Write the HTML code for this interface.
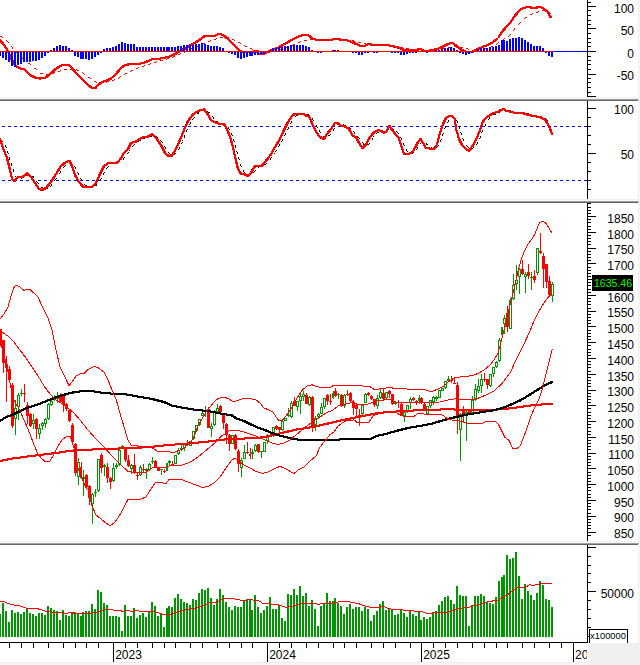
<!DOCTYPE html>
<html><head><meta charset="utf-8"><title>chart</title>
<style>
html,body{margin:0;padding:0;background:#fff;}
#c{position:relative;width:640px;height:665px;overflow:hidden;font-family:"Liberation Sans",sans-serif;}
.l{position:absolute;line-height:16px;height:16px;white-space:nowrap;color:#000;}
</style></head><body>
<div id="c">
<svg width="640" height="665" viewBox="0 0 640 665" shape-rendering="crispEdges" style="display:block">
<rect x="0" y="0" width="640" height="665" fill="#ffffff"/>
<rect x="638" y="0" width="1" height="643" fill="#efefef"/>
<rect x="639" y="0" width="1" height="643" fill="#f7f7f7"/>
<rect x="0" y="662" width="588" height="1" fill="#ececec"/>
<rect x="0" y="663" width="588" height="2" fill="#f7f7f7"/>
<rect x="0" y="97" width="638" height="1" fill="#efefef"/>
<rect x="0" y="98" width="640" height="1" fill="#fbfbfb"/>
<rect x="0" y="99" width="639" height="1" fill="#a0a0a0"/>
<rect x="0" y="100" width="638" height="1" fill="#646464"/>
<rect x="0" y="199" width="638" height="1" fill="#efefef"/>
<rect x="0" y="200" width="640" height="1" fill="#fbfbfb"/>
<rect x="0" y="201" width="639" height="1" fill="#a0a0a0"/>
<rect x="0" y="202" width="638" height="1" fill="#646464"/>
<rect x="0" y="541" width="638" height="1" fill="#efefef"/>
<rect x="0" y="542" width="640" height="1" fill="#fbfbfb"/>
<rect x="0" y="543" width="639" height="1" fill="#a0a0a0"/>
<rect x="0" y="544" width="638" height="1" fill="#646464"/>
<rect x="542" y="10" width="3" height="1" fill="#ff0000"/><rect x="538" y="11" width="1" height="1" fill="#ff0000"/><rect x="548" y="11" width="1" height="1" fill="#ff0000"/><rect x="536" y="12" width="2" height="1" fill="#ff0000"/><rect x="549" y="12" width="1" height="1" fill="#ff0000"/><rect x="532" y="13" width="1" height="1" fill="#ff0000"/><rect x="550" y="13" width="1" height="1" fill="#ff0000"/><rect x="530" y="14" width="2" height="1" fill="#ff0000"/><rect x="525" y="17" width="2" height="1" fill="#ff0000"/><rect x="524" y="18" width="1" height="1" fill="#ff0000"/><rect x="520" y="22" width="1" height="1" fill="#ff0000"/><rect x="519" y="23" width="1" height="1" fill="#ff0000"/><rect x="518" y="24" width="1" height="1" fill="#ff0000"/><rect x="514" y="28" width="1" height="1" fill="#ff0000"/><rect x="514" y="29" width="1" height="1" fill="#ff0000"/><rect x="513" y="30" width="1" height="1" fill="#ff0000"/><rect x="510" y="34" width="1" height="1" fill="#ff0000"/><rect x="509" y="35" width="1" height="1" fill="#ff0000"/><rect x="0" y="36" width="2" height="1" fill="#ff0000"/><rect x="508" y="36" width="1" height="1" fill="#ff0000"/><rect x="2" y="37" width="1" height="1" fill="#ff0000"/><rect x="220" y="37" width="3" height="1" fill="#ff0000"/><rect x="226" y="37" width="3" height="1" fill="#ff0000"/><rect x="216" y="38" width="1" height="1" fill="#ff0000"/><rect x="504" y="38" width="1" height="1" fill="#ff0000"/><rect x="214" y="39" width="2" height="1" fill="#ff0000"/><rect x="232" y="39" width="2" height="1" fill="#ff0000"/><rect x="310" y="39" width="3" height="1" fill="#ff0000"/><rect x="316" y="39" width="3" height="1" fill="#ff0000"/><rect x="322" y="39" width="3" height="1" fill="#ff0000"/><rect x="328" y="39" width="3" height="1" fill="#ff0000"/><rect x="334" y="39" width="3" height="1" fill="#ff0000"/><rect x="340" y="39" width="3" height="1" fill="#ff0000"/><rect x="346" y="39" width="2" height="1" fill="#ff0000"/><rect x="503" y="39" width="1" height="1" fill="#ff0000"/><rect x="6" y="40" width="1" height="1" fill="#ff0000"/><rect x="210" y="40" width="1" height="1" fill="#ff0000"/><rect x="234" y="40" width="1" height="1" fill="#ff0000"/><rect x="304" y="40" width="3" height="1" fill="#ff0000"/><rect x="348" y="40" width="1" height="1" fill="#ff0000"/><rect x="352" y="40" width="2" height="1" fill="#ff0000"/><rect x="502" y="40" width="1" height="1" fill="#ff0000"/><rect x="7" y="41" width="1" height="1" fill="#ff0000"/><rect x="208" y="41" width="2" height="1" fill="#ff0000"/><rect x="300" y="41" width="1" height="1" fill="#ff0000"/><rect x="354" y="41" width="1" height="1" fill="#ff0000"/><rect x="8" y="42" width="1" height="1" fill="#ff0000"/><rect x="238" y="42" width="2" height="1" fill="#ff0000"/><rect x="298" y="42" width="2" height="1" fill="#ff0000"/><rect x="358" y="42" width="3" height="1" fill="#ff0000"/><rect x="498" y="42" width="1" height="1" fill="#ff0000"/><rect x="203" y="43" width="2" height="1" fill="#ff0000"/><rect x="240" y="43" width="1" height="1" fill="#ff0000"/><rect x="364" y="43" width="2" height="1" fill="#ff0000"/><rect x="497" y="43" width="1" height="1" fill="#ff0000"/><rect x="202" y="44" width="1" height="1" fill="#ff0000"/><rect x="293" y="44" width="2" height="1" fill="#ff0000"/><rect x="366" y="44" width="1" height="1" fill="#ff0000"/><rect x="370" y="44" width="3" height="1" fill="#ff0000"/><rect x="496" y="44" width="1" height="1" fill="#ff0000"/><rect x="198" y="45" width="1" height="1" fill="#ff0000"/><rect x="244" y="45" width="1" height="1" fill="#ff0000"/><rect x="292" y="45" width="1" height="1" fill="#ff0000"/><rect x="376" y="45" width="3" height="1" fill="#ff0000"/><rect x="382" y="45" width="3" height="1" fill="#ff0000"/><rect x="388" y="45" width="3" height="1" fill="#ff0000"/><rect x="394" y="45" width="1" height="1" fill="#ff0000"/><rect x="11" y="46" width="1" height="1" fill="#ff0000"/><rect x="196" y="46" width="2" height="1" fill="#ff0000"/><rect x="245" y="46" width="2" height="1" fill="#ff0000"/><rect x="287" y="46" width="2" height="1" fill="#ff0000"/><rect x="395" y="46" width="2" height="1" fill="#ff0000"/><rect x="454" y="46" width="3" height="1" fill="#ff0000"/><rect x="491" y="46" width="2" height="1" fill="#ff0000"/><rect x="12" y="47" width="1" height="1" fill="#ff0000"/><rect x="286" y="47" width="1" height="1" fill="#ff0000"/><rect x="400" y="47" width="3" height="1" fill="#ff0000"/><rect x="448" y="47" width="3" height="1" fill="#ff0000"/><rect x="460" y="47" width="3" height="1" fill="#ff0000"/><rect x="490" y="47" width="1" height="1" fill="#ff0000"/><rect x="12" y="48" width="1" height="1" fill="#ff0000"/><rect x="191" y="48" width="2" height="1" fill="#ff0000"/><rect x="250" y="48" width="2" height="1" fill="#ff0000"/><rect x="281" y="48" width="2" height="1" fill="#ff0000"/><rect x="406" y="48" width="3" height="1" fill="#ff0000"/><rect x="442" y="48" width="3" height="1" fill="#ff0000"/><rect x="466" y="48" width="2" height="1" fill="#ff0000"/><rect x="485" y="48" width="2" height="1" fill="#ff0000"/><rect x="190" y="49" width="1" height="1" fill="#ff0000"/><rect x="252" y="49" width="1" height="1" fill="#ff0000"/><rect x="280" y="49" width="1" height="1" fill="#ff0000"/><rect x="412" y="49" width="3" height="1" fill="#ff0000"/><rect x="418" y="49" width="3" height="1" fill="#ff0000"/><rect x="436" y="49" width="3" height="1" fill="#ff0000"/><rect x="468" y="49" width="1" height="1" fill="#ff0000"/><rect x="479" y="49" width="2" height="1" fill="#ff0000"/><rect x="484" y="49" width="1" height="1" fill="#ff0000"/><rect x="256" y="50" width="3" height="1" fill="#ff0000"/><rect x="275" y="50" width="2" height="1" fill="#ff0000"/><rect x="424" y="50" width="3" height="1" fill="#ff0000"/><rect x="430" y="50" width="3" height="1" fill="#ff0000"/><rect x="472" y="50" width="3" height="1" fill="#ff0000"/><rect x="478" y="50" width="1" height="1" fill="#ff0000"/><rect x="185" y="51" width="2" height="1" fill="#ff0000"/><rect x="270" y="51" width="1" height="1" fill="#ff0000"/><rect x="274" y="51" width="1" height="1" fill="#ff0000"/><rect x="16" y="52" width="1" height="1" fill="#ff0000"/><rect x="184" y="52" width="1" height="1" fill="#ff0000"/><rect x="262" y="52" width="3" height="1" fill="#ff0000"/><rect x="268" y="52" width="2" height="1" fill="#ff0000"/><rect x="17" y="53" width="1" height="1" fill="#ff0000"/><rect x="180" y="53" width="1" height="1" fill="#ff0000"/><rect x="18" y="54" width="1" height="1" fill="#ff0000"/><rect x="178" y="54" width="2" height="1" fill="#ff0000"/><rect x="173" y="56" width="2" height="1" fill="#ff0000"/><rect x="172" y="57" width="1" height="1" fill="#ff0000"/><rect x="22" y="58" width="2" height="1" fill="#ff0000"/><rect x="167" y="58" width="2" height="1" fill="#ff0000"/><rect x="24" y="59" width="1" height="1" fill="#ff0000"/><rect x="166" y="59" width="1" height="1" fill="#ff0000"/><rect x="160" y="60" width="3" height="1" fill="#ff0000"/><rect x="156" y="61" width="1" height="1" fill="#ff0000"/><rect x="154" y="62" width="2" height="1" fill="#ff0000"/><rect x="28" y="63" width="2" height="1" fill="#ff0000"/><rect x="150" y="63" width="1" height="1" fill="#ff0000"/><rect x="30" y="64" width="1" height="1" fill="#ff0000"/><rect x="148" y="64" width="2" height="1" fill="#ff0000"/><rect x="144" y="65" width="1" height="1" fill="#ff0000"/><rect x="142" y="66" width="2" height="1" fill="#ff0000"/><rect x="138" y="67" width="1" height="1" fill="#ff0000"/><rect x="34" y="68" width="2" height="1" fill="#ff0000"/><rect x="136" y="68" width="2" height="1" fill="#ff0000"/><rect x="36" y="69" width="1" height="1" fill="#ff0000"/><rect x="64" y="69" width="3" height="1" fill="#ff0000"/><rect x="70" y="69" width="3" height="1" fill="#ff0000"/><rect x="76" y="69" width="1" height="1" fill="#ff0000"/><rect x="60" y="70" width="1" height="1" fill="#ff0000"/><rect x="77" y="70" width="2" height="1" fill="#ff0000"/><rect x="131" y="70" width="2" height="1" fill="#ff0000"/><rect x="58" y="71" width="2" height="1" fill="#ff0000"/><rect x="130" y="71" width="1" height="1" fill="#ff0000"/><rect x="54" y="72" width="1" height="1" fill="#ff0000"/><rect x="82" y="72" width="1" height="1" fill="#ff0000"/><rect x="40" y="73" width="3" height="1" fill="#ff0000"/><rect x="52" y="73" width="2" height="1" fill="#ff0000"/><rect x="83" y="73" width="1" height="1" fill="#ff0000"/><rect x="125" y="73" width="2" height="1" fill="#ff0000"/><rect x="46" y="74" width="3" height="1" fill="#ff0000"/><rect x="84" y="74" width="1" height="1" fill="#ff0000"/><rect x="124" y="74" width="1" height="1" fill="#ff0000"/><rect x="120" y="76" width="1" height="1" fill="#ff0000"/><rect x="88" y="77" width="2" height="1" fill="#ff0000"/><rect x="119" y="77" width="1" height="1" fill="#ff0000"/><rect x="90" y="78" width="1" height="1" fill="#ff0000"/><rect x="118" y="78" width="1" height="1" fill="#ff0000"/><rect x="114" y="79" width="1" height="1" fill="#ff0000"/><rect x="112" y="80" width="2" height="1" fill="#ff0000"/><rect x="94" y="81" width="2" height="1" fill="#ff0000"/><rect x="107" y="81" width="2" height="1" fill="#ff0000"/><rect x="96" y="82" width="1" height="1" fill="#ff0000"/><rect x="101" y="82" width="2" height="1" fill="#ff0000"/><rect x="106" y="82" width="1" height="1" fill="#ff0000"/><rect x="100" y="83" width="1" height="1" fill="#ff0000"/>
<polyline points="-0.5,39.5 3.5,44.5 7.5,50.5 11.5,59.5 15.5,65.9 19.5,67.9 23.5,68.5 29.5,74.5 35.5,77.5 39.5,78.1 44.5,77.5 49.5,73.5 54.5,69.1 59.5,65.5 64.5,64.1 68.5,64.3 71.5,67.5 75.5,72.5 81.5,78.5 87.5,84.5 91.5,87.5 94.5,87.9 97.5,84.5 101.5,81.5 107.5,79.5 111.5,77.5 115.5,73.5 119.5,68.5 123.5,65.1 127.5,64.0 133.5,63.5 139.5,63.1 145.5,61.5 151.5,58.7 157.5,58.3 163.5,57.5 169.5,55.9 175.5,53.1 179.5,50.5 185.5,47.5 191.5,43.9 197.5,40.5 203.5,35.9 207.5,35.5 213.5,35.5 217.5,33.9 220.5,33.9 224.5,35.9 229.5,40.5 235.5,46.5 239.5,50.5 243.5,51.9 249.5,51.9 255.5,50.5 258.5,53.5 262.5,53.9 266.5,51.9 271.5,49.5 277.5,47.1 283.5,43.9 289.5,40.5 295.5,37.1 300.5,35.1 305.5,34.5 308.5,35.1 311.5,37.9 315.5,39.1 323.5,39.1 331.5,39.1 334.5,38.1 337.5,38.5 341.5,39.5 347.5,40.1 351.5,41.5 355.5,43.5 359.5,45.1 364.5,45.1 368.5,43.5 372.5,44.5 379.5,44.5 383.5,44.5 389.5,45.1 395.5,46.5 399.5,47.5 403.5,49.5 409.5,49.1 415.5,49.5 419.5,48.5 423.5,50.1 428.5,50.1 433.5,49.1 439.5,47.5 443.5,45.5 448.5,43.1 452.5,42.5 455.5,45.1 459.5,48.5 463.5,50.5 467.5,51.9 471.5,51.9 475.5,49.5 479.5,47.5 485.5,45.1 491.5,42.5 497.5,37.5 501.5,31.5 505.5,26.5 509.5,22.5 513.5,16.5 517.5,11.5 520.5,8.5 524.5,7.1 529.5,6.5 532.5,7.9 535.5,7.5 538.5,6.1 541.5,7.1 544.5,9.1 547.5,11.5 549.5,15.9 551.5,17.5" fill="none" stroke="#ff0000" stroke-width="1"/>
<polyline points="0.5,39.5 4.5,44.5 8.5,50.5 12.5,59.5 16.5,65.9 20.5,67.9 24.5,68.5 30.5,74.5 36.5,77.5 40.5,78.1 45.5,77.5 50.5,73.5 55.5,69.1 60.5,65.5 65.5,64.1 69.5,64.3 72.5,67.5 76.5,72.5 82.5,78.5 88.5,84.5 92.5,87.5 95.5,87.9 98.5,84.5 102.5,81.5 108.5,79.5 112.5,77.5 116.5,73.5 120.5,68.5 124.5,65.1 128.5,64.0 134.5,63.5 140.5,63.1 146.5,61.5 152.5,58.7 158.5,58.3 164.5,57.5 170.5,55.9 176.5,53.1 180.5,50.5 186.5,47.5 192.5,43.9 198.5,40.5 204.5,35.9 208.5,35.5 214.5,35.5 218.5,33.9 221.5,33.9 225.5,35.9 230.5,40.5 236.5,46.5 240.5,50.5 244.5,51.9 250.5,51.9 256.5,50.5 259.5,53.5 263.5,53.9 267.5,51.9 272.5,49.5 278.5,47.1 284.5,43.9 290.5,40.5 296.5,37.1 301.5,35.1 306.5,34.5 309.5,35.1 312.5,37.9 316.5,39.1 324.5,39.1 332.5,39.1 335.5,38.1 338.5,38.5 342.5,39.5 348.5,40.1 352.5,41.5 356.5,43.5 360.5,45.1 365.5,45.1 369.5,43.5 373.5,44.5 380.5,44.5 384.5,44.5 390.5,45.1 396.5,46.5 400.5,47.5 404.5,49.5 410.5,49.1 416.5,49.5 420.5,48.5 424.5,50.1 429.5,50.1 434.5,49.1 440.5,47.5 444.5,45.5 449.5,43.1 453.5,42.5 456.5,45.1 460.5,48.5 464.5,50.5 468.5,51.9 472.5,51.9 476.5,49.5 480.5,47.5 486.5,45.1 492.5,42.5 498.5,37.5 502.5,31.5 506.5,26.5 510.5,22.5 514.5,16.5 518.5,11.5 521.5,8.5 525.5,7.1 530.5,6.5 533.5,7.9 536.5,7.5 539.5,6.1 542.5,7.1 545.5,9.1 548.5,11.5 550.5,15.9 552.5,17.5" fill="none" stroke="#ff0000" stroke-width="1"/>
<polyline points="-0.5,40.5 3.5,45.5 7.5,51.5 11.5,60.5 15.5,66.9 19.5,68.9 23.5,69.5 29.5,75.5 35.5,78.5 39.5,79.1 44.5,78.5 49.5,74.5 54.5,70.1 59.5,66.5 64.5,65.1 68.5,65.3 71.5,68.5 75.5,73.5 81.5,79.5 87.5,85.5 91.5,88.5 94.5,88.9 97.5,85.5 101.5,82.5 107.5,80.5 111.5,78.5 115.5,74.5 119.5,69.5 123.5,66.1 127.5,65.0 133.5,64.5 139.5,64.1 145.5,62.5 151.5,59.7 157.5,59.3 163.5,58.5 169.5,56.9 175.5,54.1 179.5,51.5 185.5,48.5 191.5,44.9 197.5,41.5 203.5,36.9 207.5,36.5 213.5,36.5 217.5,34.9 220.5,34.9 224.5,36.9 229.5,41.5 235.5,47.5 239.5,51.5 243.5,52.9 249.5,52.9 255.5,51.5 258.5,54.5 262.5,54.9 266.5,52.9 271.5,50.5 277.5,48.1 283.5,44.9 289.5,41.5 295.5,38.1 300.5,36.1 305.5,35.5 308.5,36.1 311.5,38.9 315.5,40.1 323.5,40.1 331.5,40.1 334.5,39.1 337.5,39.5 341.5,40.5 347.5,41.1 351.5,42.5 355.5,44.5 359.5,46.1 364.5,46.1 368.5,44.5 372.5,45.5 379.5,45.5 383.5,45.5 389.5,46.1 395.5,47.5 399.5,48.5 403.5,50.5 409.5,50.1 415.5,50.5 419.5,49.5 423.5,51.1 428.5,51.1 433.5,50.1 439.5,48.5 443.5,46.5 448.5,44.1 452.5,43.5 455.5,46.1 459.5,49.5 463.5,51.5 467.5,52.9 471.5,52.9 475.5,50.5 479.5,48.5 485.5,46.1 491.5,43.5 497.5,38.5 501.5,32.5 505.5,27.5 509.5,23.5 513.5,17.5 517.5,12.5 520.5,9.5 524.5,8.1 529.5,7.5 532.5,8.9 535.5,8.5 538.5,7.1 541.5,8.1 544.5,10.1 547.5,12.5 549.5,16.9 551.5,18.5" fill="none" stroke="#ff0000" stroke-width="1"/>
<polyline points="0.5,40.5 4.5,45.5 8.5,51.5 12.5,60.5 16.5,66.9 20.5,68.9 24.5,69.5 30.5,75.5 36.5,78.5 40.5,79.1 45.5,78.5 50.5,74.5 55.5,70.1 60.5,66.5 65.5,65.1 69.5,65.3 72.5,68.5 76.5,73.5 82.5,79.5 88.5,85.5 92.5,88.5 95.5,88.9 98.5,85.5 102.5,82.5 108.5,80.5 112.5,78.5 116.5,74.5 120.5,69.5 124.5,66.1 128.5,65.0 134.5,64.5 140.5,64.1 146.5,62.5 152.5,59.7 158.5,59.3 164.5,58.5 170.5,56.9 176.5,54.1 180.5,51.5 186.5,48.5 192.5,44.9 198.5,41.5 204.5,36.9 208.5,36.5 214.5,36.5 218.5,34.9 221.5,34.9 225.5,36.9 230.5,41.5 236.5,47.5 240.5,51.5 244.5,52.9 250.5,52.9 256.5,51.5 259.5,54.5 263.5,54.9 267.5,52.9 272.5,50.5 278.5,48.1 284.5,44.9 290.5,41.5 296.5,38.1 301.5,36.1 306.5,35.5 309.5,36.1 312.5,38.9 316.5,40.1 324.5,40.1 332.5,40.1 335.5,39.1 338.5,39.5 342.5,40.5 348.5,41.1 352.5,42.5 356.5,44.5 360.5,46.1 365.5,46.1 369.5,44.5 373.5,45.5 380.5,45.5 384.5,45.5 390.5,46.1 396.5,47.5 400.5,48.5 404.5,50.5 410.5,50.1 416.5,50.5 420.5,49.5 424.5,51.1 429.5,51.1 434.5,50.1 440.5,48.5 444.5,46.5 449.5,44.1 453.5,43.5 456.5,46.1 460.5,49.5 464.5,51.5 468.5,52.9 472.5,52.9 476.5,50.5 480.5,48.5 486.5,46.1 492.5,43.5 498.5,38.5 502.5,32.5 506.5,27.5 510.5,23.5 514.5,17.5 518.5,12.5 521.5,9.5 525.5,8.1 530.5,7.5 533.5,8.9 536.5,8.5 539.5,7.1 542.5,8.1 545.5,10.1 548.5,12.5 550.5,16.9 552.5,18.5" fill="none" stroke="#ff0000" stroke-width="1"/>
<rect x="-1" y="52" width="2" height="4" fill="#0000ff"/>
<rect x="2" y="52" width="2" height="6" fill="#0000ff"/>
<rect x="5" y="52" width="2" height="8" fill="#0000ff"/>
<rect x="8" y="52" width="2" height="10" fill="#0000ff"/>
<rect x="11" y="52" width="2" height="14" fill="#0000ff"/>
<rect x="14" y="52" width="2" height="15" fill="#0000ff"/>
<rect x="17" y="52" width="2" height="13" fill="#0000ff"/>
<rect x="20" y="52" width="2" height="12" fill="#0000ff"/>
<rect x="23" y="52" width="2" height="10" fill="#0000ff"/>
<rect x="26" y="52" width="2" height="10" fill="#0000ff"/>
<rect x="29" y="52" width="2" height="10" fill="#0000ff"/>
<rect x="32" y="52" width="2" height="9" fill="#0000ff"/>
<rect x="35" y="52" width="2" height="9" fill="#0000ff"/>
<rect x="38" y="52" width="2" height="8" fill="#0000ff"/>
<rect x="41" y="52" width="2" height="6" fill="#0000ff"/>
<rect x="44" y="52" width="2" height="4" fill="#0000ff"/>
<rect x="47" y="52" width="2" height="1" fill="#0000ff"/>
<rect x="50" y="50" width="2" height="1" fill="#0000ff"/>
<rect x="53" y="48" width="2" height="3" fill="#0000ff"/>
<rect x="56" y="46" width="2" height="5" fill="#0000ff"/>
<rect x="59" y="45" width="2" height="6" fill="#0000ff"/>
<rect x="62" y="46" width="2" height="5" fill="#0000ff"/>
<rect x="65" y="46" width="2" height="5" fill="#0000ff"/>
<rect x="68" y="48" width="2" height="3" fill="#0000ff"/>
<rect x="71" y="50" width="2" height="1" fill="#0000ff"/>
<rect x="74" y="52" width="2" height="4" fill="#0000ff"/>
<rect x="77" y="52" width="2" height="5" fill="#0000ff"/>
<rect x="80" y="52" width="2" height="7" fill="#0000ff"/>
<rect x="82" y="52" width="2" height="7" fill="#0000ff"/>
<rect x="85" y="52" width="2" height="7" fill="#0000ff"/>
<rect x="88" y="52" width="2" height="8" fill="#0000ff"/>
<rect x="91" y="52" width="2" height="7" fill="#0000ff"/>
<rect x="94" y="52" width="2" height="5" fill="#0000ff"/>
<rect x="97" y="52" width="2" height="3" fill="#0000ff"/>
<rect x="100" y="52" width="2" height="1" fill="#0000ff"/>
<rect x="103" y="49" width="2" height="2" fill="#0000ff"/>
<rect x="106" y="48" width="2" height="3" fill="#0000ff"/>
<rect x="109" y="48" width="2" height="3" fill="#0000ff"/>
<rect x="112" y="47" width="2" height="4" fill="#0000ff"/>
<rect x="115" y="46" width="2" height="5" fill="#0000ff"/>
<rect x="118" y="44" width="2" height="7" fill="#0000ff"/>
<rect x="121" y="42" width="2" height="9" fill="#0000ff"/>
<rect x="124" y="43" width="2" height="8" fill="#0000ff"/>
<rect x="127" y="44" width="2" height="7" fill="#0000ff"/>
<rect x="130" y="44" width="2" height="7" fill="#0000ff"/>
<rect x="133" y="44" width="2" height="7" fill="#0000ff"/>
<rect x="136" y="47" width="2" height="4" fill="#0000ff"/>
<rect x="139" y="47" width="2" height="4" fill="#0000ff"/>
<rect x="142" y="47" width="2" height="4" fill="#0000ff"/>
<rect x="145" y="47" width="2" height="4" fill="#0000ff"/>
<rect x="148" y="47" width="2" height="4" fill="#0000ff"/>
<rect x="151" y="47" width="2" height="4" fill="#0000ff"/>
<rect x="154" y="47" width="2" height="4" fill="#0000ff"/>
<rect x="157" y="47" width="2" height="4" fill="#0000ff"/>
<rect x="160" y="47" width="2" height="4" fill="#0000ff"/>
<rect x="163" y="47" width="2" height="4" fill="#0000ff"/>
<rect x="166" y="47" width="2" height="4" fill="#0000ff"/>
<rect x="168" y="47" width="2" height="4" fill="#0000ff"/>
<rect x="171" y="47" width="2" height="4" fill="#0000ff"/>
<rect x="174" y="47" width="2" height="4" fill="#0000ff"/>
<rect x="177" y="46" width="2" height="5" fill="#0000ff"/>
<rect x="180" y="46" width="2" height="5" fill="#0000ff"/>
<rect x="183" y="45" width="2" height="6" fill="#0000ff"/>
<rect x="186" y="45" width="2" height="6" fill="#0000ff"/>
<rect x="189" y="45" width="2" height="6" fill="#0000ff"/>
<rect x="192" y="45" width="2" height="6" fill="#0000ff"/>
<rect x="195" y="44" width="2" height="7" fill="#0000ff"/>
<rect x="198" y="44" width="2" height="7" fill="#0000ff"/>
<rect x="201" y="43" width="2" height="8" fill="#0000ff"/>
<rect x="204" y="44" width="2" height="7" fill="#0000ff"/>
<rect x="207" y="45" width="2" height="6" fill="#0000ff"/>
<rect x="210" y="46" width="2" height="5" fill="#0000ff"/>
<rect x="213" y="46" width="2" height="5" fill="#0000ff"/>
<rect x="216" y="46" width="2" height="5" fill="#0000ff"/>
<rect x="219" y="47" width="2" height="4" fill="#0000ff"/>
<rect x="222" y="48" width="2" height="3" fill="#0000ff"/>
<rect x="228" y="52" width="2" height="1" fill="#0000ff"/>
<rect x="231" y="52" width="2" height="2" fill="#0000ff"/>
<rect x="234" y="52" width="2" height="3" fill="#0000ff"/>
<rect x="237" y="52" width="2" height="6" fill="#0000ff"/>
<rect x="240" y="52" width="2" height="7" fill="#0000ff"/>
<rect x="243" y="52" width="2" height="6" fill="#0000ff"/>
<rect x="246" y="52" width="2" height="5" fill="#0000ff"/>
<rect x="249" y="52" width="2" height="4" fill="#0000ff"/>
<rect x="251" y="52" width="2" height="4" fill="#0000ff"/>
<rect x="254" y="52" width="2" height="3" fill="#0000ff"/>
<rect x="257" y="52" width="2" height="3" fill="#0000ff"/>
<rect x="260" y="52" width="2" height="2" fill="#0000ff"/>
<rect x="263" y="52" width="2" height="2" fill="#0000ff"/>
<rect x="269" y="50" width="2" height="1" fill="#0000ff"/>
<rect x="272" y="48" width="2" height="3" fill="#0000ff"/>
<rect x="275" y="48" width="2" height="3" fill="#0000ff"/>
<rect x="278" y="47" width="2" height="4" fill="#0000ff"/>
<rect x="281" y="47" width="2" height="4" fill="#0000ff"/>
<rect x="284" y="46" width="2" height="5" fill="#0000ff"/>
<rect x="287" y="46" width="2" height="5" fill="#0000ff"/>
<rect x="290" y="45" width="2" height="6" fill="#0000ff"/>
<rect x="293" y="45" width="2" height="6" fill="#0000ff"/>
<rect x="296" y="45" width="2" height="6" fill="#0000ff"/>
<rect x="299" y="45" width="2" height="6" fill="#0000ff"/>
<rect x="302" y="45" width="2" height="6" fill="#0000ff"/>
<rect x="305" y="46" width="2" height="5" fill="#0000ff"/>
<rect x="308" y="47" width="2" height="4" fill="#0000ff"/>
<rect x="311" y="50" width="2" height="1" fill="#0000ff"/>
<rect x="317" y="52" width="2" height="1" fill="#0000ff"/>
<rect x="320" y="52" width="2" height="1" fill="#0000ff"/>
<rect x="332" y="50" width="2" height="1" fill="#0000ff"/>
<rect x="334" y="50" width="2" height="1" fill="#0000ff"/>
<rect x="337" y="50" width="2" height="1" fill="#0000ff"/>
<rect x="352" y="52" width="2" height="1" fill="#0000ff"/>
<rect x="355" y="52" width="2" height="1" fill="#0000ff"/>
<rect x="358" y="52" width="2" height="3" fill="#0000ff"/>
<rect x="361" y="52" width="2" height="3" fill="#0000ff"/>
<rect x="364" y="52" width="2" height="1" fill="#0000ff"/>
<rect x="367" y="52" width="2" height="1" fill="#0000ff"/>
<rect x="373" y="52" width="2" height="1" fill="#0000ff"/>
<rect x="376" y="52" width="2" height="1" fill="#0000ff"/>
<rect x="391" y="52" width="2" height="1" fill="#0000ff"/>
<rect x="394" y="52" width="2" height="1" fill="#0000ff"/>
<rect x="397" y="52" width="2" height="1" fill="#0000ff"/>
<rect x="400" y="52" width="2" height="3" fill="#0000ff"/>
<rect x="403" y="52" width="2" height="3" fill="#0000ff"/>
<rect x="406" y="52" width="2" height="2" fill="#0000ff"/>
<rect x="409" y="52" width="2" height="1" fill="#0000ff"/>
<rect x="412" y="52" width="2" height="1" fill="#0000ff"/>
<rect x="415" y="52" width="2" height="1" fill="#0000ff"/>
<rect x="426" y="52" width="2" height="1" fill="#0000ff"/>
<rect x="435" y="50" width="2" height="1" fill="#0000ff"/>
<rect x="438" y="50" width="2" height="1" fill="#0000ff"/>
<rect x="441" y="49" width="2" height="2" fill="#0000ff"/>
<rect x="444" y="48" width="2" height="3" fill="#0000ff"/>
<rect x="447" y="48" width="2" height="3" fill="#0000ff"/>
<rect x="450" y="47" width="2" height="4" fill="#0000ff"/>
<rect x="453" y="48" width="2" height="3" fill="#0000ff"/>
<rect x="456" y="50" width="2" height="1" fill="#0000ff"/>
<rect x="459" y="52" width="2" height="1" fill="#0000ff"/>
<rect x="462" y="52" width="2" height="2" fill="#0000ff"/>
<rect x="465" y="52" width="2" height="3" fill="#0000ff"/>
<rect x="468" y="52" width="2" height="2" fill="#0000ff"/>
<rect x="471" y="52" width="2" height="1" fill="#0000ff"/>
<rect x="477" y="49" width="2" height="2" fill="#0000ff"/>
<rect x="480" y="48" width="2" height="3" fill="#0000ff"/>
<rect x="483" y="48" width="2" height="3" fill="#0000ff"/>
<rect x="486" y="48" width="2" height="3" fill="#0000ff"/>
<rect x="489" y="47" width="2" height="4" fill="#0000ff"/>
<rect x="492" y="47" width="2" height="4" fill="#0000ff"/>
<rect x="495" y="46" width="2" height="5" fill="#0000ff"/>
<rect x="498" y="45" width="2" height="6" fill="#0000ff"/>
<rect x="501" y="40" width="2" height="11" fill="#0000ff"/>
<rect x="503" y="40" width="2" height="11" fill="#0000ff"/>
<rect x="506" y="41" width="2" height="10" fill="#0000ff"/>
<rect x="509" y="39" width="2" height="12" fill="#0000ff"/>
<rect x="512" y="38" width="2" height="13" fill="#0000ff"/>
<rect x="515" y="38" width="2" height="13" fill="#0000ff"/>
<rect x="518" y="37" width="2" height="14" fill="#0000ff"/>
<rect x="521" y="38" width="2" height="13" fill="#0000ff"/>
<rect x="524" y="40" width="2" height="11" fill="#0000ff"/>
<rect x="527" y="42" width="2" height="9" fill="#0000ff"/>
<rect x="530" y="44" width="2" height="7" fill="#0000ff"/>
<rect x="533" y="46" width="2" height="5" fill="#0000ff"/>
<rect x="536" y="46" width="2" height="5" fill="#0000ff"/>
<rect x="539" y="46" width="2" height="5" fill="#0000ff"/>
<rect x="542" y="48" width="2" height="3" fill="#0000ff"/>
<rect x="545" y="52" width="2" height="1" fill="#0000ff"/>
<rect x="548" y="52" width="2" height="4" fill="#0000ff"/>
<rect x="551" y="52" width="2" height="5" fill="#0000ff"/>
<rect x="0" y="51" width="587" height="1" fill="#0000ff"/>
<rect x="0" y="51" width="553" height="1" fill="#ff0000"/>
<rect x="587" y="0" width="1" height="97" fill="#000"/>
<rect x="587" y="96" width="9" height="1" fill="#000"/>
<rect x="587" y="92" width="4" height="1" fill="#000"/>
<rect x="587" y="87" width="4" height="1" fill="#000"/>
<rect x="587" y="82" width="4" height="1" fill="#000"/>
<rect x="587" y="78" width="4" height="1" fill="#000"/>
<rect x="587" y="74" width="9" height="1" fill="#000"/>
<rect x="587" y="69" width="4" height="1" fill="#000"/>
<rect x="587" y="64" width="4" height="1" fill="#000"/>
<rect x="587" y="60" width="4" height="1" fill="#000"/>
<rect x="587" y="56" width="4" height="1" fill="#000"/>
<rect x="587" y="51" width="9" height="1" fill="#000"/>
<rect x="587" y="46" width="4" height="1" fill="#000"/>
<rect x="587" y="42" width="4" height="1" fill="#000"/>
<rect x="587" y="38" width="4" height="1" fill="#000"/>
<rect x="587" y="33" width="4" height="1" fill="#000"/>
<rect x="587" y="28" width="9" height="1" fill="#000"/>
<rect x="587" y="24" width="4" height="1" fill="#000"/>
<rect x="587" y="20" width="4" height="1" fill="#000"/>
<rect x="587" y="15" width="4" height="1" fill="#000"/>
<rect x="587" y="10" width="4" height="1" fill="#000"/>
<rect x="587" y="6" width="9" height="1" fill="#000"/>
<rect x="587" y="2" width="4" height="1" fill="#000"/>
<line x1="0" y1="126.5" x2="587" y2="126.5" stroke="#0000ff" stroke-width="1" stroke-dasharray="3 3" stroke-dashoffset="4"/>
<line x1="0" y1="180.5" x2="587" y2="180.5" stroke="#0000ff" stroke-width="1" stroke-dasharray="3 3" stroke-dashoffset="4"/>
<rect x="202" y="110" width="3" height="1" fill="#000"/><rect x="504" y="110" width="3" height="1" fill="#000"/><rect x="510" y="110" width="1" height="1" fill="#000"/><rect x="207" y="111" width="1" height="1" fill="#000"/><rect x="500" y="111" width="1" height="1" fill="#000"/><rect x="510" y="111" width="2" height="1" fill="#000"/><rect x="198" y="112" width="1" height="1" fill="#000"/><rect x="208" y="112" width="2" height="1" fill="#000"/><rect x="498" y="112" width="2" height="1" fill="#000"/><rect x="515" y="112" width="3" height="1" fill="#000"/><rect x="521" y="112" width="3" height="1" fill="#000"/><rect x="197" y="113" width="2" height="1" fill="#000"/><rect x="300" y="113" width="3" height="1" fill="#000"/><rect x="527" y="113" width="2" height="1" fill="#000"/><rect x="306" y="114" width="3" height="1" fill="#000"/><rect x="493" y="114" width="3" height="1" fill="#000"/><rect x="529" y="114" width="1" height="1" fill="#000"/><rect x="296" y="115" width="2" height="1" fill="#000"/><rect x="533" y="115" width="3" height="1" fill="#000"/><rect x="212" y="116" width="1" height="1" fill="#000"/><rect x="295" y="116" width="1" height="1" fill="#000"/><rect x="451" y="116" width="3" height="1" fill="#000"/><rect x="539" y="116" width="3" height="1" fill="#000"/><rect x="194" y="117" width="1" height="1" fill="#000"/><rect x="213" y="117" width="1" height="1" fill="#000"/><rect x="489" y="117" width="1" height="1" fill="#000"/><rect x="193" y="118" width="1" height="1" fill="#000"/><rect x="213" y="118" width="1" height="1" fill="#000"/><rect x="312" y="118" width="1" height="1" fill="#000"/><rect x="489" y="118" width="1" height="1" fill="#000"/><rect x="545" y="118" width="1" height="1" fill="#000"/><rect x="192" y="119" width="1" height="1" fill="#000"/><rect x="312" y="119" width="1" height="1" fill="#000"/><rect x="488" y="119" width="1" height="1" fill="#000"/><rect x="546" y="119" width="1" height="1" fill="#000"/><rect x="313" y="120" width="1" height="1" fill="#000"/><rect x="448" y="120" width="1" height="1" fill="#000"/><rect x="456" y="120" width="1" height="1" fill="#000"/><rect x="547" y="120" width="1" height="1" fill="#000"/><rect x="216" y="121" width="2" height="1" fill="#000"/><rect x="291" y="121" width="1" height="1" fill="#000"/><rect x="448" y="121" width="1" height="1" fill="#000"/><rect x="457" y="121" width="1" height="1" fill="#000"/><rect x="190" y="122" width="1" height="1" fill="#000"/><rect x="218" y="122" width="1" height="1" fill="#000"/><rect x="291" y="122" width="1" height="1" fill="#000"/><rect x="447" y="122" width="1" height="1" fill="#000"/><rect x="457" y="122" width="1" height="1" fill="#000"/><rect x="190" y="123" width="1" height="1" fill="#000"/><rect x="222" y="123" width="3" height="1" fill="#000"/><rect x="290" y="123" width="1" height="1" fill="#000"/><rect x="189" y="124" width="1" height="1" fill="#000"/><rect x="337" y="124" width="3" height="1" fill="#000"/><rect x="343" y="124" width="1" height="1" fill="#000"/><rect x="485" y="124" width="1" height="1" fill="#000"/><rect x="316" y="125" width="1" height="1" fill="#000"/><rect x="344" y="125" width="2" height="1" fill="#000"/><rect x="485" y="125" width="1" height="1" fill="#000"/><rect x="316" y="126" width="1" height="1" fill="#000"/><rect x="445" y="126" width="1" height="1" fill="#000"/><rect x="458" y="126" width="1" height="1" fill="#000"/><rect x="484" y="126" width="1" height="1" fill="#000"/><rect x="228" y="127" width="1" height="1" fill="#000"/><rect x="288" y="127" width="1" height="1" fill="#000"/><rect x="317" y="127" width="1" height="1" fill="#000"/><rect x="348" y="127" width="2" height="1" fill="#000"/><rect x="445" y="127" width="1" height="1" fill="#000"/><rect x="459" y="127" width="1" height="1" fill="#000"/><rect x="228" y="128" width="1" height="1" fill="#000"/><rect x="288" y="128" width="1" height="1" fill="#000"/><rect x="334" y="128" width="1" height="1" fill="#000"/><rect x="350" y="128" width="1" height="1" fill="#000"/><rect x="444" y="128" width="1" height="1" fill="#000"/><rect x="459" y="128" width="1" height="1" fill="#000"/><rect x="187" y="129" width="1" height="1" fill="#000"/><rect x="229" y="129" width="1" height="1" fill="#000"/><rect x="287" y="129" width="1" height="1" fill="#000"/><rect x="333" y="129" width="1" height="1" fill="#000"/><rect x="391" y="129" width="3" height="1" fill="#000"/><rect x="186" y="130" width="1" height="1" fill="#000"/><rect x="319" y="130" width="1" height="1" fill="#000"/><rect x="333" y="130" width="1" height="1" fill="#000"/><rect x="381" y="130" width="1" height="1" fill="#000"/><rect x="387" y="130" width="1" height="1" fill="#000"/><rect x="482" y="130" width="1" height="1" fill="#000"/><rect x="186" y="131" width="1" height="1" fill="#000"/><rect x="319" y="131" width="1" height="1" fill="#000"/><rect x="353" y="131" width="1" height="1" fill="#000"/><rect x="381" y="131" width="2" height="1" fill="#000"/><rect x="386" y="131" width="2" height="1" fill="#000"/><rect x="396" y="131" width="1" height="1" fill="#000"/><rect x="482" y="131" width="1" height="1" fill="#000"/><rect x="320" y="132" width="1" height="1" fill="#000"/><rect x="354" y="132" width="1" height="1" fill="#000"/><rect x="377" y="132" width="2" height="1" fill="#000"/><rect x="397" y="132" width="1" height="1" fill="#000"/><rect x="460" y="132" width="1" height="1" fill="#000"/><rect x="481" y="132" width="1" height="1" fill="#000"/><rect x="231" y="133" width="1" height="1" fill="#000"/><rect x="285" y="133" width="1" height="1" fill="#000"/><rect x="354" y="133" width="1" height="1" fill="#000"/><rect x="376" y="133" width="1" height="1" fill="#000"/><rect x="398" y="133" width="1" height="1" fill="#000"/><rect x="443" y="133" width="1" height="1" fill="#000"/><rect x="461" y="133" width="1" height="1" fill="#000"/><rect x="231" y="134" width="1" height="1" fill="#000"/><rect x="285" y="134" width="1" height="1" fill="#000"/><rect x="330" y="134" width="1" height="1" fill="#000"/><rect x="442" y="134" width="1" height="1" fill="#000"/><rect x="461" y="134" width="1" height="1" fill="#000"/><rect x="184" y="135" width="1" height="1" fill="#000"/><rect x="232" y="135" width="1" height="1" fill="#000"/><rect x="284" y="135" width="1" height="1" fill="#000"/><rect x="328" y="135" width="2" height="1" fill="#000"/><rect x="442" y="135" width="1" height="1" fill="#000"/><rect x="149" y="136" width="3" height="1" fill="#000"/><rect x="155" y="136" width="2" height="1" fill="#000"/><rect x="184" y="136" width="1" height="1" fill="#000"/><rect x="323" y="136" width="2" height="1" fill="#000"/><rect x="357" y="136" width="1" height="1" fill="#000"/><rect x="373" y="136" width="1" height="1" fill="#000"/><rect x="480" y="136" width="1" height="1" fill="#000"/><rect x="145" y="137" width="1" height="1" fill="#000"/><rect x="157" y="137" width="1" height="1" fill="#000"/><rect x="184" y="137" width="1" height="1" fill="#000"/><rect x="324" y="137" width="1" height="1" fill="#000"/><rect x="358" y="137" width="1" height="1" fill="#000"/><rect x="400" y="137" width="1" height="1" fill="#000"/><rect x="480" y="137" width="1" height="1" fill="#000"/><rect x="143" y="138" width="2" height="1" fill="#000"/><rect x="359" y="138" width="1" height="1" fill="#000"/><rect x="372" y="138" width="1" height="1" fill="#000"/><rect x="401" y="138" width="1" height="1" fill="#000"/><rect x="462" y="138" width="1" height="1" fill="#000"/><rect x="479" y="138" width="1" height="1" fill="#000"/><rect x="0" y="139" width="1" height="1" fill="#000"/><rect x="233" y="139" width="1" height="1" fill="#000"/><rect x="282" y="139" width="1" height="1" fill="#000"/><rect x="372" y="139" width="1" height="1" fill="#000"/><rect x="401" y="139" width="1" height="1" fill="#000"/><rect x="441" y="139" width="1" height="1" fill="#000"/><rect x="463" y="139" width="1" height="1" fill="#000"/><rect x="1" y="140" width="1" height="1" fill="#000"/><rect x="139" y="140" width="2" height="1" fill="#000"/><rect x="160" y="140" width="1" height="1" fill="#000"/><rect x="182" y="140" width="1" height="1" fill="#000"/><rect x="233" y="140" width="1" height="1" fill="#000"/><rect x="282" y="140" width="1" height="1" fill="#000"/><rect x="440" y="140" width="1" height="1" fill="#000"/><rect x="463" y="140" width="1" height="1" fill="#000"/><rect x="2" y="141" width="1" height="1" fill="#000"/><rect x="138" y="141" width="1" height="1" fill="#000"/><rect x="161" y="141" width="1" height="1" fill="#000"/><rect x="234" y="141" width="1" height="1" fill="#000"/><rect x="281" y="141" width="1" height="1" fill="#000"/><rect x="440" y="141" width="1" height="1" fill="#000"/><rect x="162" y="142" width="1" height="1" fill="#000"/><rect x="182" y="142" width="1" height="1" fill="#000"/><rect x="362" y="142" width="1" height="1" fill="#000"/><rect x="421" y="142" width="2" height="1" fill="#000"/><rect x="477" y="142" width="1" height="1" fill="#000"/><rect x="181" y="143" width="1" height="1" fill="#000"/><rect x="363" y="143" width="1" height="1" fill="#000"/><rect x="369" y="143" width="1" height="1" fill="#000"/><rect x="403" y="143" width="1" height="1" fill="#000"/><rect x="420" y="143" width="1" height="1" fill="#000"/><rect x="426" y="143" width="1" height="1" fill="#000"/><rect x="477" y="143" width="1" height="1" fill="#000"/><rect x="134" y="144" width="1" height="1" fill="#000"/><rect x="279" y="144" width="1" height="1" fill="#000"/><rect x="363" y="144" width="1" height="1" fill="#000"/><rect x="367" y="144" width="2" height="1" fill="#000"/><rect x="403" y="144" width="1" height="1" fill="#000"/><rect x="426" y="144" width="2" height="1" fill="#000"/><rect x="476" y="144" width="1" height="1" fill="#000"/><rect x="5" y="145" width="1" height="1" fill="#000"/><rect x="133" y="145" width="1" height="1" fill="#000"/><rect x="235" y="145" width="1" height="1" fill="#000"/><rect x="279" y="145" width="1" height="1" fill="#000"/><rect x="404" y="145" width="1" height="1" fill="#000"/><rect x="438" y="145" width="1" height="1" fill="#000"/><rect x="466" y="145" width="1" height="1" fill="#000"/><rect x="5" y="146" width="1" height="1" fill="#000"/><rect x="132" y="146" width="1" height="1" fill="#000"/><rect x="164" y="146" width="1" height="1" fill="#000"/><rect x="235" y="146" width="1" height="1" fill="#000"/><rect x="278" y="146" width="1" height="1" fill="#000"/><rect x="437" y="146" width="1" height="1" fill="#000"/><rect x="467" y="146" width="1" height="1" fill="#000"/><rect x="6" y="147" width="1" height="1" fill="#000"/><rect x="165" y="147" width="1" height="1" fill="#000"/><rect x="179" y="147" width="1" height="1" fill="#000"/><rect x="235" y="147" width="1" height="1" fill="#000"/><rect x="417" y="147" width="1" height="1" fill="#000"/><rect x="431" y="147" width="1" height="1" fill="#000"/><rect x="436" y="147" width="1" height="1" fill="#000"/><rect x="468" y="147" width="1" height="1" fill="#000"/><rect x="473" y="147" width="1" height="1" fill="#000"/><rect x="165" y="148" width="1" height="1" fill="#000"/><rect x="179" y="148" width="1" height="1" fill="#000"/><rect x="417" y="148" width="1" height="1" fill="#000"/><rect x="432" y="148" width="2" height="1" fill="#000"/><rect x="471" y="148" width="2" height="1" fill="#000"/><rect x="178" y="149" width="1" height="1" fill="#000"/><rect x="406" y="149" width="1" height="1" fill="#000"/><rect x="416" y="149" width="1" height="1" fill="#000"/><rect x="129" y="150" width="1" height="1" fill="#000"/><rect x="276" y="150" width="1" height="1" fill="#000"/><rect x="406" y="150" width="1" height="1" fill="#000"/><rect x="7" y="151" width="1" height="1" fill="#000"/><rect x="236" y="151" width="1" height="1" fill="#000"/><rect x="275" y="151" width="1" height="1" fill="#000"/><rect x="407" y="151" width="1" height="1" fill="#000"/><rect x="7" y="152" width="1" height="1" fill="#000"/><rect x="128" y="152" width="1" height="1" fill="#000"/><rect x="168" y="152" width="1" height="1" fill="#000"/><rect x="237" y="152" width="1" height="1" fill="#000"/><rect x="413" y="152" width="1" height="1" fill="#000"/><rect x="8" y="153" width="1" height="1" fill="#000"/><rect x="127" y="153" width="1" height="1" fill="#000"/><rect x="169" y="153" width="1" height="1" fill="#000"/><rect x="174" y="153" width="2" height="1" fill="#000"/><rect x="237" y="153" width="1" height="1" fill="#000"/><rect x="274" y="153" width="1" height="1" fill="#000"/><rect x="411" y="153" width="2" height="1" fill="#000"/><rect x="170" y="154" width="1" height="1" fill="#000"/><rect x="174" y="154" width="1" height="1" fill="#000"/><rect x="9" y="157" width="1" height="1" fill="#000"/><rect x="124" y="157" width="1" height="1" fill="#000"/><rect x="238" y="157" width="1" height="1" fill="#000"/><rect x="271" y="157" width="1" height="1" fill="#000"/><rect x="9" y="158" width="1" height="1" fill="#000"/><rect x="123" y="158" width="1" height="1" fill="#000"/><rect x="238" y="158" width="1" height="1" fill="#000"/><rect x="270" y="158" width="1" height="1" fill="#000"/><rect x="9" y="159" width="1" height="1" fill="#000"/><rect x="123" y="159" width="1" height="1" fill="#000"/><rect x="239" y="159" width="1" height="1" fill="#000"/><rect x="270" y="159" width="1" height="1" fill="#000"/><rect x="119" y="161" width="1" height="1" fill="#000"/><rect x="69" y="162" width="3" height="1" fill="#000"/><rect x="113" y="162" width="1" height="1" fill="#000"/><rect x="117" y="162" width="2" height="1" fill="#000"/><rect x="11" y="163" width="1" height="1" fill="#000"/><rect x="111" y="163" width="2" height="1" fill="#000"/><rect x="266" y="163" width="1" height="1" fill="#000"/><rect x="11" y="164" width="1" height="1" fill="#000"/><rect x="240" y="164" width="1" height="1" fill="#000"/><rect x="264" y="164" width="2" height="1" fill="#000"/><rect x="11" y="165" width="1" height="1" fill="#000"/><rect x="65" y="165" width="1" height="1" fill="#000"/><rect x="240" y="165" width="1" height="1" fill="#000"/><rect x="64" y="166" width="1" height="1" fill="#000"/><rect x="74" y="166" width="1" height="1" fill="#000"/><rect x="108" y="166" width="1" height="1" fill="#000"/><rect x="241" y="166" width="1" height="1" fill="#000"/><rect x="259" y="166" width="2" height="1" fill="#000"/><rect x="63" y="167" width="1" height="1" fill="#000"/><rect x="75" y="167" width="1" height="1" fill="#000"/><rect x="107" y="167" width="1" height="1" fill="#000"/><rect x="258" y="167" width="1" height="1" fill="#000"/><rect x="75" y="168" width="1" height="1" fill="#000"/><rect x="106" y="168" width="1" height="1" fill="#000"/><rect x="13" y="169" width="1" height="1" fill="#000"/><rect x="13" y="170" width="1" height="1" fill="#000"/><rect x="243" y="170" width="1" height="1" fill="#000"/><rect x="255" y="170" width="1" height="1" fill="#000"/><rect x="13" y="171" width="1" height="1" fill="#000"/><rect x="60" y="171" width="1" height="1" fill="#000"/><rect x="243" y="171" width="1" height="1" fill="#000"/><rect x="254" y="171" width="1" height="1" fill="#000"/><rect x="60" y="172" width="1" height="1" fill="#000"/><rect x="77" y="172" width="1" height="1" fill="#000"/><rect x="104" y="172" width="1" height="1" fill="#000"/><rect x="244" y="172" width="1" height="1" fill="#000"/><rect x="253" y="172" width="1" height="1" fill="#000"/><rect x="59" y="173" width="1" height="1" fill="#000"/><rect x="78" y="173" width="1" height="1" fill="#000"/><rect x="103" y="173" width="1" height="1" fill="#000"/><rect x="78" y="174" width="1" height="1" fill="#000"/><rect x="103" y="174" width="1" height="1" fill="#000"/><rect x="247" y="174" width="3" height="1" fill="#000"/><rect x="26" y="175" width="3" height="1" fill="#000"/><rect x="15" y="176" width="1" height="1" fill="#000"/><rect x="32" y="176" width="2" height="1" fill="#000"/><rect x="16" y="177" width="2" height="1" fill="#000"/><rect x="21" y="177" width="2" height="1" fill="#000"/><rect x="33" y="177" width="1" height="1" fill="#000"/><rect x="21" y="178" width="1" height="1" fill="#000"/><rect x="56" y="178" width="1" height="1" fill="#000"/><rect x="80" y="178" width="1" height="1" fill="#000"/><rect x="101" y="178" width="1" height="1" fill="#000"/><rect x="55" y="179" width="1" height="1" fill="#000"/><rect x="81" y="179" width="1" height="1" fill="#000"/><rect x="100" y="179" width="1" height="1" fill="#000"/><rect x="54" y="180" width="1" height="1" fill="#000"/><rect x="81" y="180" width="1" height="1" fill="#000"/><rect x="99" y="180" width="1" height="1" fill="#000"/><rect x="36" y="181" width="1" height="1" fill="#000"/><rect x="37" y="182" width="1" height="1" fill="#000"/><rect x="38" y="183" width="1" height="1" fill="#000"/><rect x="51" y="184" width="1" height="1" fill="#000"/><rect x="84" y="184" width="1" height="1" fill="#000"/><rect x="96" y="184" width="1" height="1" fill="#000"/><rect x="51" y="185" width="1" height="1" fill="#000"/><rect x="85" y="185" width="2" height="1" fill="#000"/><rect x="95" y="185" width="2" height="1" fill="#000"/><rect x="50" y="186" width="1" height="1" fill="#000"/><rect x="89" y="186" width="3" height="1" fill="#000"/><rect x="41" y="187" width="2" height="1" fill="#000"/><rect x="42" y="188" width="1" height="1" fill="#000"/><rect x="45" y="188" width="3" height="1" fill="#000"/>
<polyline points="-0.5,138.5 2.5,147.5 6.5,157.5 9.5,169.5 11.5,178.5 13.9,180.5 17.5,176.5 22.5,176.1 26.5,173.1 30.5,176.5 34.5,182.5 38.5,188.5 41.5,189.5 45.5,187.5 50.5,181.5 55.5,173.5 60.5,165.5 65.5,161.5 69.1,160.5 71.5,165.5 74.5,174.5 78.5,181.5 82.5,186.1 87.5,186.5 91.5,186.5 95.5,182.5 99.5,173.5 103.5,165.5 108.5,162.1 112.5,162.1 116.5,162.1 119.5,159.5 123.5,152.5 127.5,148.5 130.5,142.5 135.5,141.1 141.5,137.1 146.5,136.5 151.5,133.9 155.5,137.5 160.5,144.5 164.5,152.5 167.5,155.1 171.5,155.1 175.5,148.5 179.5,139.5 183.5,129.5 187.5,120.5 191.5,115.1 195.5,111.5 199.5,109.9 203.5,108.9 206.5,112.5 210.5,119.5 214.5,121.9 218.5,123.1 223.1,123.1 226.5,128.5 229.5,136.5 232.5,146.5 235.5,160.5 237.5,168.5 240.5,173.1 243.5,173.5 247.1,175.5 250.5,172.5 253.1,167.5 255.5,165.1 261.5,165.1 264.5,161.5 269.5,155.5 274.5,146.5 279.5,138.5 283.5,129.5 287.5,121.5 291.5,115.5 294.5,113.1 302.5,113.1 305.5,115.1 308.5,115.9 311.5,122.5 314.5,129.5 318.5,135.5 323.1,138.9 326.5,133.5 330.5,128.5 334.5,122.5 337.1,122.1 340.5,125.5 344.5,126.1 348.5,128.5 352.5,135.5 355.5,136.5 358.5,142.5 361.9,147.5 365.1,144.5 369.5,136.5 373.5,131.9 377.5,129.5 380.5,130.5 383.5,132.1 385.9,131.1 388.9,125.5 392.5,130.5 395.5,134.5 397.9,136.5 400.5,144.5 403.5,153.9 407.5,153.9 411.5,151.9 414.5,147.5 417.5,141.5 420.1,138.5 422.5,142.5 425.5,147.5 429.5,148.1 433.5,148.1 436.5,144.5 439.5,132.5 442.5,123.5 445.5,117.5 448.5,115.5 451.1,115.1 453.9,117.5 455.9,129.5 458.5,138.5 461.5,144.5 465.5,148.5 468.5,150.5 471.5,146.5 475.5,139.5 479.5,129.5 482.5,121.0 486.5,116.5 491.5,113.3 497.5,111.1 500.5,109.5 503.1,108.5 505.5,110.5 509.5,111.1 513.5,112.1 521.5,112.1 525.5,113.9 529.5,114.5 532.5,115.9 538.5,116.1 541.5,117.5 544.5,119.5 547.5,123.5 549.5,128.5 551.9,133.5" fill="none" stroke="#ff0000" stroke-width="1"/>
<polyline points="0.5,138.5 3.5,147.5 7.5,157.5 10.5,169.5 12.5,178.5 14.9,180.5 18.5,176.5 23.5,176.1 27.5,173.1 31.5,176.5 35.5,182.5 39.5,188.5 42.5,189.5 46.5,187.5 51.5,181.5 56.5,173.5 61.5,165.5 66.5,161.5 70.1,160.5 72.5,165.5 75.5,174.5 79.5,181.5 83.5,186.1 88.5,186.5 92.5,186.5 96.5,182.5 100.5,173.5 104.5,165.5 109.5,162.1 113.5,162.1 117.5,162.1 120.5,159.5 124.5,152.5 128.5,148.5 131.5,142.5 136.5,141.1 142.5,137.1 147.5,136.5 152.5,133.9 156.5,137.5 161.5,144.5 165.5,152.5 168.5,155.1 172.5,155.1 176.5,148.5 180.5,139.5 184.5,129.5 188.5,120.5 192.5,115.1 196.5,111.5 200.5,109.9 204.5,108.9 207.5,112.5 211.5,119.5 215.5,121.9 219.5,123.1 224.1,123.1 227.5,128.5 230.5,136.5 233.5,146.5 236.5,160.5 238.5,168.5 241.5,173.1 244.5,173.5 248.1,175.5 251.5,172.5 254.1,167.5 256.5,165.1 262.5,165.1 265.5,161.5 270.5,155.5 275.5,146.5 280.5,138.5 284.5,129.5 288.5,121.5 292.5,115.5 295.5,113.1 303.5,113.1 306.5,115.1 309.5,115.9 312.5,122.5 315.5,129.5 319.5,135.5 324.1,138.9 327.5,133.5 331.5,128.5 335.5,122.5 338.1,122.1 341.5,125.5 345.5,126.1 349.5,128.5 353.5,135.5 356.5,136.5 359.5,142.5 362.9,147.5 366.1,144.5 370.5,136.5 374.5,131.9 378.5,129.5 381.5,130.5 384.5,132.1 386.9,131.1 389.9,125.5 393.5,130.5 396.5,134.5 398.9,136.5 401.5,144.5 404.5,153.9 408.5,153.9 412.5,151.9 415.5,147.5 418.5,141.5 421.1,138.5 423.5,142.5 426.5,147.5 430.5,148.1 434.5,148.1 437.5,144.5 440.5,132.5 443.5,123.5 446.5,117.5 449.5,115.5 452.1,115.1 454.9,117.5 456.9,129.5 459.5,138.5 462.5,144.5 466.5,148.5 469.5,150.5 472.5,146.5 476.5,139.5 480.5,129.5 483.5,121.0 487.5,116.5 492.5,113.3 498.5,111.1 501.5,109.5 504.1,108.5 506.5,110.5 510.5,111.1 514.5,112.1 522.5,112.1 526.5,113.9 530.5,114.5 533.5,115.9 539.5,116.1 542.5,117.5 545.5,119.5 548.5,123.5 550.5,128.5 552.9,133.5" fill="none" stroke="#ff0000" stroke-width="1"/>
<polyline points="-0.5,139.5 2.5,148.5 6.5,158.5 9.5,170.5 11.5,179.5 13.9,181.5 17.5,177.5 22.5,177.1 26.5,174.1 30.5,177.5 34.5,183.5 38.5,189.5 41.5,190.5 45.5,188.5 50.5,182.5 55.5,174.5 60.5,166.5 65.5,162.5 69.1,161.5 71.5,166.5 74.5,175.5 78.5,182.5 82.5,187.1 87.5,187.5 91.5,187.5 95.5,183.5 99.5,174.5 103.5,166.5 108.5,163.1 112.5,163.1 116.5,163.1 119.5,160.5 123.5,153.5 127.5,149.5 130.5,143.5 135.5,142.1 141.5,138.1 146.5,137.5 151.5,134.9 155.5,138.5 160.5,145.5 164.5,153.5 167.5,156.1 171.5,156.1 175.5,149.5 179.5,140.5 183.5,130.5 187.5,121.5 191.5,116.1 195.5,112.5 199.5,110.9 203.5,109.9 206.5,113.5 210.5,120.5 214.5,122.9 218.5,124.1 223.1,124.1 226.5,129.5 229.5,137.5 232.5,147.5 235.5,161.5 237.5,169.5 240.5,174.1 243.5,174.5 247.1,176.5 250.5,173.5 253.1,168.5 255.5,166.1 261.5,166.1 264.5,162.5 269.5,156.5 274.5,147.5 279.5,139.5 283.5,130.5 287.5,122.5 291.5,116.5 294.5,114.1 302.5,114.1 305.5,116.1 308.5,116.9 311.5,123.5 314.5,130.5 318.5,136.5 323.1,139.9 326.5,134.5 330.5,129.5 334.5,123.5 337.1,123.1 340.5,126.5 344.5,127.1 348.5,129.5 352.5,136.5 355.5,137.5 358.5,143.5 361.9,148.5 365.1,145.5 369.5,137.5 373.5,132.9 377.5,130.5 380.5,131.5 383.5,133.1 385.9,132.1 388.9,126.5 392.5,131.5 395.5,135.5 397.9,137.5 400.5,145.5 403.5,154.9 407.5,154.9 411.5,152.9 414.5,148.5 417.5,142.5 420.1,139.5 422.5,143.5 425.5,148.5 429.5,149.1 433.5,149.1 436.5,145.5 439.5,133.5 442.5,124.5 445.5,118.5 448.5,116.5 451.1,116.1 453.9,118.5 455.9,130.5 458.5,139.5 461.5,145.5 465.5,149.5 468.5,151.5 471.5,147.5 475.5,140.5 479.5,130.5 482.5,122.0 486.5,117.5 491.5,114.3 497.5,112.1 500.5,110.5 503.1,109.5 505.5,111.5 509.5,112.1 513.5,113.1 521.5,113.1 525.5,114.9 529.5,115.5 532.5,116.9 538.5,117.1 541.5,118.5 544.5,120.5 547.5,124.5 549.5,129.5 551.9,134.5" fill="none" stroke="#ff0000" stroke-width="1"/>
<polyline points="0.5,139.5 3.5,148.5 7.5,158.5 10.5,170.5 12.5,179.5 14.9,181.5 18.5,177.5 23.5,177.1 27.5,174.1 31.5,177.5 35.5,183.5 39.5,189.5 42.5,190.5 46.5,188.5 51.5,182.5 56.5,174.5 61.5,166.5 66.5,162.5 70.1,161.5 72.5,166.5 75.5,175.5 79.5,182.5 83.5,187.1 88.5,187.5 92.5,187.5 96.5,183.5 100.5,174.5 104.5,166.5 109.5,163.1 113.5,163.1 117.5,163.1 120.5,160.5 124.5,153.5 128.5,149.5 131.5,143.5 136.5,142.1 142.5,138.1 147.5,137.5 152.5,134.9 156.5,138.5 161.5,145.5 165.5,153.5 168.5,156.1 172.5,156.1 176.5,149.5 180.5,140.5 184.5,130.5 188.5,121.5 192.5,116.1 196.5,112.5 200.5,110.9 204.5,109.9 207.5,113.5 211.5,120.5 215.5,122.9 219.5,124.1 224.1,124.1 227.5,129.5 230.5,137.5 233.5,147.5 236.5,161.5 238.5,169.5 241.5,174.1 244.5,174.5 248.1,176.5 251.5,173.5 254.1,168.5 256.5,166.1 262.5,166.1 265.5,162.5 270.5,156.5 275.5,147.5 280.5,139.5 284.5,130.5 288.5,122.5 292.5,116.5 295.5,114.1 303.5,114.1 306.5,116.1 309.5,116.9 312.5,123.5 315.5,130.5 319.5,136.5 324.1,139.9 327.5,134.5 331.5,129.5 335.5,123.5 338.1,123.1 341.5,126.5 345.5,127.1 349.5,129.5 353.5,136.5 356.5,137.5 359.5,143.5 362.9,148.5 366.1,145.5 370.5,137.5 374.5,132.9 378.5,130.5 381.5,131.5 384.5,133.1 386.9,132.1 389.9,126.5 393.5,131.5 396.5,135.5 398.9,137.5 401.5,145.5 404.5,154.9 408.5,154.9 412.5,152.9 415.5,148.5 418.5,142.5 421.1,139.5 423.5,143.5 426.5,148.5 430.5,149.1 434.5,149.1 437.5,145.5 440.5,133.5 443.5,124.5 446.5,118.5 449.5,116.5 452.1,116.1 454.9,118.5 456.9,130.5 459.5,139.5 462.5,145.5 466.5,149.5 469.5,151.5 472.5,147.5 476.5,140.5 480.5,130.5 483.5,122.0 487.5,117.5 492.5,114.3 498.5,112.1 501.5,110.5 504.1,109.5 506.5,111.5 510.5,112.1 514.5,113.1 522.5,113.1 526.5,114.9 530.5,115.5 533.5,116.9 539.5,117.1 542.5,118.5 545.5,120.5 548.5,124.5 550.5,129.5 552.9,134.5" fill="none" stroke="#ff0000" stroke-width="1"/>
<rect x="587" y="101" width="1" height="98" fill="#000"/>
<rect x="587" y="189" width="4" height="1" fill="#000"/>
<rect x="587" y="180" width="4" height="1" fill="#000"/>
<rect x="587" y="171" width="4" height="1" fill="#000"/>
<rect x="587" y="162" width="4" height="1" fill="#000"/>
<rect x="587" y="153" width="9" height="1" fill="#000"/>
<rect x="587" y="144" width="4" height="1" fill="#000"/>
<rect x="587" y="135" width="4" height="1" fill="#000"/>
<rect x="587" y="126" width="4" height="1" fill="#000"/>
<rect x="587" y="117" width="4" height="1" fill="#000"/>
<rect x="587" y="108" width="9" height="1" fill="#000"/>
<rect x="0" y="329" width="1" height="17" fill="#ff0000"/>
<rect x="-1" y="329" width="3" height="17" fill="#ff0000"/>
<rect x="3" y="340" width="1" height="33" fill="#ff0000"/>
<rect x="2" y="340" width="3" height="23" fill="#ff0000"/>
<rect x="6" y="356" width="1" height="46" fill="#ff0000"/>
<rect x="5" y="364" width="3" height="4" fill="#ff0000"/>
<rect x="9" y="366" width="1" height="14" fill="#ff0000"/>
<rect x="8" y="369" width="3" height="11" fill="#ff0000"/>
<rect x="12" y="383" width="1" height="45" fill="#ff0000"/>
<rect x="11" y="385" width="3" height="41" fill="#ff0000"/>
<rect x="15" y="400" width="1" height="35" fill="#009400"/>
<rect x="14" y="408" width="3" height="11" fill="#009400"/>
<rect x="15" y="409" width="1" height="9" fill="#ffffff"/>
<rect x="18" y="393" width="1" height="27" fill="#009400"/>
<rect x="17" y="395" width="3" height="12" fill="#009400"/>
<rect x="18" y="396" width="1" height="10" fill="#ffffff"/>
<rect x="21" y="389" width="1" height="7" fill="#009400"/>
<rect x="20" y="393" width="3" height="1" fill="#009400"/>
<rect x="24" y="384" width="1" height="18" fill="#ff0000"/>
<rect x="23" y="393" width="3" height="1" fill="#ff0000"/>
<rect x="27" y="402" width="1" height="22" fill="#ff0000"/>
<rect x="26" y="405" width="3" height="11" fill="#ff0000"/>
<rect x="30" y="413" width="1" height="14" fill="#ff0000"/>
<rect x="29" y="414" width="3" height="12" fill="#ff0000"/>
<rect x="33" y="414" width="1" height="15" fill="#009400"/>
<rect x="32" y="420" width="3" height="4" fill="#009400"/>
<rect x="33" y="421" width="1" height="2" fill="#ffffff"/>
<rect x="36" y="418" width="1" height="21" fill="#ff0000"/>
<rect x="35" y="419" width="3" height="10" fill="#ff0000"/>
<rect x="39" y="424" width="1" height="15" fill="#009400"/>
<rect x="38" y="428" width="3" height="6" fill="#009400"/>
<rect x="39" y="429" width="1" height="4" fill="#ffffff"/>
<rect x="42" y="422" width="1" height="8" fill="#009400"/>
<rect x="41" y="423" width="3" height="3" fill="#009400"/>
<rect x="42" y="424" width="1" height="1" fill="#ffffff"/>
<rect x="45" y="418" width="1" height="10" fill="#009400"/>
<rect x="44" y="419" width="3" height="5" fill="#009400"/>
<rect x="45" y="420" width="1" height="3" fill="#ffffff"/>
<rect x="48" y="403" width="1" height="17" fill="#009400"/>
<rect x="47" y="404" width="3" height="15" fill="#009400"/>
<rect x="48" y="405" width="1" height="13" fill="#ffffff"/>
<rect x="51" y="400" width="1" height="6" fill="#009400"/>
<rect x="50" y="401" width="3" height="4" fill="#009400"/>
<rect x="51" y="402" width="1" height="2" fill="#ffffff"/>
<rect x="54" y="395" width="1" height="6" fill="#009400"/>
<rect x="53" y="397" width="3" height="2" fill="#009400"/>
<rect x="57" y="392" width="1" height="11" fill="#009400"/>
<rect x="56" y="396" width="3" height="3" fill="#009400"/>
<rect x="57" y="397" width="1" height="1" fill="#ffffff"/>
<rect x="60" y="393" width="1" height="9" fill="#ff0000"/>
<rect x="59" y="396" width="3" height="6" fill="#ff0000"/>
<rect x="63" y="395" width="1" height="17" fill="#ff0000"/>
<rect x="62" y="396" width="3" height="9" fill="#ff0000"/>
<rect x="66" y="403" width="1" height="8" fill="#ff0000"/>
<rect x="65" y="404" width="3" height="5" fill="#ff0000"/>
<rect x="69" y="409" width="1" height="13" fill="#ff0000"/>
<rect x="68" y="410" width="3" height="11" fill="#ff0000"/>
<rect x="72" y="423" width="1" height="20" fill="#ff0000"/>
<rect x="71" y="425" width="3" height="17" fill="#ff0000"/>
<rect x="75" y="443" width="1" height="33" fill="#ff0000"/>
<rect x="74" y="444" width="3" height="29" fill="#ff0000"/>
<rect x="78" y="458" width="1" height="27" fill="#009400"/>
<rect x="77" y="462" width="3" height="15" fill="#009400"/>
<rect x="78" y="463" width="1" height="13" fill="#ffffff"/>
<rect x="81" y="462" width="1" height="17" fill="#ff0000"/>
<rect x="80" y="467" width="2" height="11" fill="#ff0000"/>
<rect x="83" y="470" width="1" height="26" fill="#009400"/>
<rect x="82" y="477" width="3" height="2" fill="#009400"/>
<rect x="86" y="474" width="1" height="14" fill="#ff0000"/>
<rect x="85" y="475" width="3" height="12" fill="#ff0000"/>
<rect x="89" y="485" width="1" height="20" fill="#ff0000"/>
<rect x="88" y="486" width="3" height="12" fill="#ff0000"/>
<rect x="92" y="493" width="1" height="31" fill="#009400"/>
<rect x="91" y="494" width="3" height="10" fill="#009400"/>
<rect x="92" y="495" width="1" height="8" fill="#ffffff"/>
<rect x="95" y="489" width="1" height="8" fill="#009400"/>
<rect x="94" y="492" width="3" height="1" fill="#009400"/>
<rect x="98" y="459" width="1" height="33" fill="#009400"/>
<rect x="97" y="459" width="3" height="32" fill="#009400"/>
<rect x="98" y="460" width="1" height="30" fill="#ffffff"/>
<rect x="101" y="453" width="1" height="20" fill="#ff0000"/>
<rect x="100" y="455" width="3" height="13" fill="#ff0000"/>
<rect x="104" y="464" width="1" height="12" fill="#009400"/>
<rect x="103" y="465" width="3" height="2" fill="#009400"/>
<rect x="107" y="463" width="1" height="20" fill="#ff0000"/>
<rect x="106" y="467" width="3" height="11" fill="#ff0000"/>
<rect x="110" y="477" width="1" height="12" fill="#ff0000"/>
<rect x="109" y="478" width="3" height="4" fill="#ff0000"/>
<rect x="113" y="463" width="1" height="19" fill="#009400"/>
<rect x="112" y="468" width="3" height="13" fill="#009400"/>
<rect x="113" y="469" width="1" height="11" fill="#ffffff"/>
<rect x="116" y="463" width="1" height="6" fill="#009400"/>
<rect x="115" y="465" width="3" height="2" fill="#009400"/>
<rect x="119" y="449" width="1" height="17" fill="#009400"/>
<rect x="118" y="450" width="3" height="15" fill="#009400"/>
<rect x="119" y="451" width="1" height="13" fill="#ffffff"/>
<rect x="122" y="445" width="1" height="3" fill="#009400"/>
<rect x="121" y="446" width="3" height="1" fill="#009400"/>
<rect x="125" y="448" width="1" height="14" fill="#ff0000"/>
<rect x="124" y="448" width="3" height="12" fill="#ff0000"/>
<rect x="128" y="455" width="1" height="12" fill="#ff0000"/>
<rect x="127" y="460" width="3" height="6" fill="#ff0000"/>
<rect x="131" y="464" width="1" height="10" fill="#009400"/>
<rect x="130" y="465" width="3" height="4" fill="#009400"/>
<rect x="131" y="466" width="1" height="2" fill="#ffffff"/>
<rect x="134" y="454" width="1" height="20" fill="#ff0000"/>
<rect x="133" y="465" width="3" height="8" fill="#ff0000"/>
<rect x="137" y="472" width="1" height="8" fill="#ff0000"/>
<rect x="136" y="475" width="3" height="1" fill="#ff0000"/>
<rect x="140" y="465" width="1" height="11" fill="#009400"/>
<rect x="139" y="467" width="3" height="8" fill="#009400"/>
<rect x="140" y="468" width="1" height="6" fill="#ffffff"/>
<rect x="143" y="464" width="1" height="8" fill="#ff0000"/>
<rect x="142" y="469" width="3" height="1" fill="#ff0000"/>
<rect x="146" y="468" width="1" height="11" fill="#009400"/>
<rect x="145" y="469" width="3" height="2" fill="#009400"/>
<rect x="149" y="463" width="1" height="8" fill="#009400"/>
<rect x="148" y="464" width="3" height="6" fill="#009400"/>
<rect x="149" y="465" width="1" height="4" fill="#ffffff"/>
<rect x="152" y="457" width="1" height="7" fill="#009400"/>
<rect x="151" y="461" width="3" height="1" fill="#009400"/>
<rect x="155" y="460" width="1" height="8" fill="#ff0000"/>
<rect x="154" y="461" width="3" height="6" fill="#ff0000"/>
<rect x="158" y="467" width="1" height="4" fill="#ff0000"/>
<rect x="157" y="467" width="3" height="4" fill="#ff0000"/>
<rect x="161" y="469" width="1" height="6" fill="#009400"/>
<rect x="160" y="469" width="3" height="1" fill="#009400"/>
<rect x="164" y="469" width="1" height="4" fill="#ff0000"/>
<rect x="163" y="471" width="3" height="1" fill="#ff0000"/>
<rect x="167" y="463" width="1" height="8" fill="#009400"/>
<rect x="166" y="463" width="2" height="8" fill="#009400"/>
<rect x="169" y="460" width="1" height="5" fill="#009400"/>
<rect x="168" y="461" width="3" height="2" fill="#009400"/>
<rect x="172" y="461" width="1" height="4" fill="#ff0000"/>
<rect x="171" y="464" width="3" height="1" fill="#ff0000"/>
<rect x="175" y="455" width="1" height="9" fill="#009400"/>
<rect x="174" y="455" width="3" height="9" fill="#009400"/>
<rect x="175" y="456" width="1" height="7" fill="#ffffff"/>
<rect x="178" y="448" width="1" height="7" fill="#009400"/>
<rect x="177" y="450" width="3" height="4" fill="#009400"/>
<rect x="178" y="451" width="1" height="2" fill="#ffffff"/>
<rect x="181" y="443" width="1" height="8" fill="#009400"/>
<rect x="180" y="448" width="3" height="2" fill="#009400"/>
<rect x="184" y="443" width="1" height="8" fill="#009400"/>
<rect x="183" y="443" width="3" height="5" fill="#009400"/>
<rect x="184" y="444" width="1" height="3" fill="#ffffff"/>
<rect x="187" y="440" width="1" height="6" fill="#ff0000"/>
<rect x="186" y="444" width="3" height="1" fill="#ff0000"/>
<rect x="190" y="441" width="1" height="5" fill="#009400"/>
<rect x="189" y="441" width="3" height="5" fill="#009400"/>
<rect x="190" y="442" width="1" height="3" fill="#ffffff"/>
<rect x="193" y="431" width="1" height="9" fill="#009400"/>
<rect x="192" y="431" width="3" height="8" fill="#009400"/>
<rect x="193" y="432" width="1" height="6" fill="#ffffff"/>
<rect x="196" y="425" width="1" height="7" fill="#009400"/>
<rect x="195" y="425" width="3" height="6" fill="#009400"/>
<rect x="196" y="426" width="1" height="4" fill="#ffffff"/>
<rect x="199" y="419" width="1" height="7" fill="#009400"/>
<rect x="198" y="419" width="3" height="6" fill="#009400"/>
<rect x="199" y="420" width="1" height="4" fill="#ffffff"/>
<rect x="202" y="412" width="1" height="4" fill="#009400"/>
<rect x="201" y="413" width="3" height="3" fill="#009400"/>
<rect x="202" y="414" width="1" height="1" fill="#ffffff"/>
<rect x="205" y="406" width="1" height="11" fill="#009400"/>
<rect x="204" y="410" width="3" height="1" fill="#009400"/>
<rect x="208" y="407" width="1" height="21" fill="#ff0000"/>
<rect x="207" y="409" width="3" height="19" fill="#ff0000"/>
<rect x="211" y="423" width="1" height="14" fill="#009400"/>
<rect x="210" y="426" width="3" height="3" fill="#009400"/>
<rect x="211" y="427" width="1" height="1" fill="#ffffff"/>
<rect x="214" y="410" width="1" height="16" fill="#009400"/>
<rect x="213" y="411" width="3" height="14" fill="#009400"/>
<rect x="214" y="412" width="1" height="12" fill="#ffffff"/>
<rect x="217" y="404" width="1" height="9" fill="#009400"/>
<rect x="216" y="408" width="3" height="4" fill="#009400"/>
<rect x="217" y="409" width="1" height="2" fill="#ffffff"/>
<rect x="220" y="405" width="1" height="8" fill="#ff0000"/>
<rect x="219" y="406" width="3" height="6" fill="#ff0000"/>
<rect x="223" y="413" width="1" height="16" fill="#ff0000"/>
<rect x="222" y="414" width="3" height="9" fill="#ff0000"/>
<rect x="226" y="423" width="1" height="21" fill="#ff0000"/>
<rect x="225" y="424" width="3" height="11" fill="#ff0000"/>
<rect x="229" y="434" width="1" height="17" fill="#ff0000"/>
<rect x="228" y="435" width="3" height="9" fill="#ff0000"/>
<rect x="232" y="435" width="1" height="9" fill="#009400"/>
<rect x="231" y="435" width="3" height="9" fill="#009400"/>
<rect x="232" y="436" width="1" height="7" fill="#ffffff"/>
<rect x="235" y="434" width="1" height="16" fill="#ff0000"/>
<rect x="234" y="435" width="3" height="14" fill="#ff0000"/>
<rect x="238" y="449" width="1" height="23" fill="#ff0000"/>
<rect x="237" y="451" width="3" height="13" fill="#ff0000"/>
<rect x="241" y="458" width="1" height="19" fill="#009400"/>
<rect x="240" y="460" width="3" height="8" fill="#009400"/>
<rect x="241" y="461" width="1" height="6" fill="#ffffff"/>
<rect x="244" y="445" width="1" height="14" fill="#009400"/>
<rect x="243" y="452" width="3" height="7" fill="#009400"/>
<rect x="244" y="453" width="1" height="5" fill="#ffffff"/>
<rect x="247" y="442" width="1" height="12" fill="#ff0000"/>
<rect x="246" y="452" width="3" height="1" fill="#ff0000"/>
<rect x="250" y="448" width="1" height="11" fill="#ff0000"/>
<rect x="249" y="454" width="2" height="2" fill="#ff0000"/>
<rect x="252" y="449" width="1" height="10" fill="#009400"/>
<rect x="251" y="452" width="3" height="2" fill="#009400"/>
<rect x="255" y="444" width="1" height="8" fill="#009400"/>
<rect x="254" y="445" width="3" height="6" fill="#009400"/>
<rect x="255" y="446" width="1" height="4" fill="#ffffff"/>
<rect x="258" y="444" width="1" height="9" fill="#ff0000"/>
<rect x="257" y="444" width="3" height="8" fill="#ff0000"/>
<rect x="261" y="451" width="1" height="7" fill="#009400"/>
<rect x="260" y="451" width="3" height="1" fill="#009400"/>
<rect x="264" y="442" width="1" height="10" fill="#009400"/>
<rect x="263" y="442" width="3" height="10" fill="#009400"/>
<rect x="264" y="443" width="1" height="8" fill="#ffffff"/>
<rect x="267" y="434" width="1" height="10" fill="#009400"/>
<rect x="266" y="435" width="3" height="6" fill="#009400"/>
<rect x="267" y="436" width="1" height="4" fill="#ffffff"/>
<rect x="270" y="434" width="1" height="3" fill="#009400"/>
<rect x="269" y="435" width="3" height="1" fill="#009400"/>
<rect x="273" y="427" width="1" height="10" fill="#009400"/>
<rect x="272" y="427" width="3" height="7" fill="#009400"/>
<rect x="273" y="428" width="1" height="5" fill="#ffffff"/>
<rect x="276" y="425" width="1" height="5" fill="#ff0000"/>
<rect x="275" y="426" width="3" height="3" fill="#ff0000"/>
<rect x="279" y="427" width="1" height="7" fill="#ff0000"/>
<rect x="278" y="427" width="3" height="3" fill="#ff0000"/>
<rect x="282" y="421" width="1" height="10" fill="#009400"/>
<rect x="281" y="421" width="3" height="9" fill="#009400"/>
<rect x="282" y="422" width="1" height="7" fill="#ffffff"/>
<rect x="285" y="418" width="1" height="3" fill="#009400"/>
<rect x="284" y="418" width="3" height="3" fill="#009400"/>
<rect x="285" y="419" width="1" height="1" fill="#ffffff"/>
<rect x="288" y="408" width="1" height="9" fill="#009400"/>
<rect x="287" y="415" width="3" height="1" fill="#009400"/>
<rect x="291" y="401" width="1" height="17" fill="#009400"/>
<rect x="290" y="403" width="3" height="14" fill="#009400"/>
<rect x="291" y="404" width="1" height="12" fill="#ffffff"/>
<rect x="294" y="397" width="1" height="9" fill="#ff0000"/>
<rect x="293" y="401" width="3" height="5" fill="#ff0000"/>
<rect x="297" y="401" width="1" height="10" fill="#009400"/>
<rect x="296" y="401" width="3" height="6" fill="#009400"/>
<rect x="297" y="402" width="1" height="4" fill="#ffffff"/>
<rect x="300" y="392" width="1" height="22" fill="#009400"/>
<rect x="299" y="396" width="3" height="5" fill="#009400"/>
<rect x="300" y="397" width="1" height="3" fill="#ffffff"/>
<rect x="303" y="391" width="1" height="10" fill="#009400"/>
<rect x="302" y="394" width="3" height="3" fill="#009400"/>
<rect x="303" y="395" width="1" height="1" fill="#ffffff"/>
<rect x="306" y="393" width="1" height="11" fill="#ff0000"/>
<rect x="305" y="395" width="3" height="9" fill="#ff0000"/>
<rect x="309" y="396" width="1" height="10" fill="#009400"/>
<rect x="308" y="397" width="3" height="8" fill="#009400"/>
<rect x="309" y="398" width="1" height="6" fill="#ffffff"/>
<rect x="312" y="396" width="1" height="36" fill="#ff0000"/>
<rect x="311" y="397" width="3" height="31" fill="#ff0000"/>
<rect x="315" y="416" width="1" height="15" fill="#009400"/>
<rect x="314" y="418" width="3" height="7" fill="#009400"/>
<rect x="315" y="419" width="1" height="5" fill="#ffffff"/>
<rect x="318" y="413" width="1" height="5" fill="#009400"/>
<rect x="317" y="414" width="3" height="3" fill="#009400"/>
<rect x="318" y="415" width="1" height="1" fill="#ffffff"/>
<rect x="321" y="403" width="1" height="11" fill="#009400"/>
<rect x="320" y="407" width="3" height="7" fill="#009400"/>
<rect x="321" y="408" width="1" height="5" fill="#ffffff"/>
<rect x="324" y="398" width="1" height="11" fill="#009400"/>
<rect x="323" y="398" width="3" height="9" fill="#009400"/>
<rect x="324" y="399" width="1" height="7" fill="#ffffff"/>
<rect x="327" y="394" width="1" height="11" fill="#ff0000"/>
<rect x="326" y="395" width="3" height="6" fill="#ff0000"/>
<rect x="330" y="394" width="1" height="11" fill="#ff0000"/>
<rect x="329" y="401" width="3" height="1" fill="#ff0000"/>
<rect x="333" y="391" width="1" height="8" fill="#009400"/>
<rect x="332" y="393" width="2" height="5" fill="#009400"/>
<rect x="335" y="388" width="1" height="9" fill="#ff0000"/>
<rect x="334" y="391" width="3" height="5" fill="#ff0000"/>
<rect x="338" y="393" width="1" height="6" fill="#009400"/>
<rect x="337" y="394" width="3" height="1" fill="#009400"/>
<rect x="341" y="394" width="1" height="13" fill="#ff0000"/>
<rect x="340" y="395" width="3" height="11" fill="#ff0000"/>
<rect x="344" y="394" width="1" height="14" fill="#009400"/>
<rect x="343" y="395" width="3" height="11" fill="#009400"/>
<rect x="344" y="396" width="1" height="9" fill="#ffffff"/>
<rect x="347" y="390" width="1" height="6" fill="#ff0000"/>
<rect x="346" y="394" width="3" height="1" fill="#ff0000"/>
<rect x="350" y="392" width="1" height="11" fill="#ff0000"/>
<rect x="349" y="393" width="3" height="8" fill="#ff0000"/>
<rect x="353" y="400" width="1" height="15" fill="#ff0000"/>
<rect x="352" y="402" width="3" height="6" fill="#ff0000"/>
<rect x="356" y="403" width="1" height="13" fill="#ff0000"/>
<rect x="355" y="405" width="3" height="4" fill="#ff0000"/>
<rect x="359" y="409" width="1" height="17" fill="#ff0000"/>
<rect x="358" y="415" width="3" height="1" fill="#ff0000"/>
<rect x="362" y="405" width="1" height="10" fill="#009400"/>
<rect x="361" y="405" width="3" height="9" fill="#009400"/>
<rect x="362" y="406" width="1" height="7" fill="#ffffff"/>
<rect x="365" y="393" width="1" height="10" fill="#009400"/>
<rect x="364" y="394" width="3" height="9" fill="#009400"/>
<rect x="365" y="395" width="1" height="7" fill="#ffffff"/>
<rect x="368" y="392" width="1" height="4" fill="#ff0000"/>
<rect x="367" y="393" width="3" height="2" fill="#ff0000"/>
<rect x="371" y="395" width="1" height="5" fill="#ff0000"/>
<rect x="370" y="396" width="3" height="3" fill="#ff0000"/>
<rect x="374" y="399" width="1" height="8" fill="#ff0000"/>
<rect x="373" y="399" width="3" height="6" fill="#ff0000"/>
<rect x="377" y="395" width="1" height="14" fill="#009400"/>
<rect x="376" y="398" width="3" height="8" fill="#009400"/>
<rect x="377" y="399" width="1" height="6" fill="#ffffff"/>
<rect x="380" y="389" width="1" height="10" fill="#009400"/>
<rect x="379" y="392" width="3" height="6" fill="#009400"/>
<rect x="380" y="393" width="1" height="4" fill="#ffffff"/>
<rect x="383" y="389" width="1" height="11" fill="#ff0000"/>
<rect x="382" y="393" width="3" height="6" fill="#ff0000"/>
<rect x="386" y="392" width="1" height="8" fill="#009400"/>
<rect x="385" y="392" width="3" height="6" fill="#009400"/>
<rect x="386" y="393" width="1" height="4" fill="#ffffff"/>
<rect x="389" y="390" width="1" height="8" fill="#ff0000"/>
<rect x="388" y="391" width="3" height="3" fill="#ff0000"/>
<rect x="392" y="394" width="1" height="11" fill="#ff0000"/>
<rect x="391" y="394" width="3" height="10" fill="#ff0000"/>
<rect x="395" y="401" width="1" height="4" fill="#009400"/>
<rect x="394" y="402" width="3" height="2" fill="#009400"/>
<rect x="398" y="400" width="1" height="8" fill="#ff0000"/>
<rect x="397" y="402" width="3" height="1" fill="#ff0000"/>
<rect x="401" y="403" width="1" height="13" fill="#ff0000"/>
<rect x="400" y="404" width="3" height="11" fill="#ff0000"/>
<rect x="404" y="412" width="1" height="10" fill="#009400"/>
<rect x="403" y="412" width="3" height="4" fill="#009400"/>
<rect x="404" y="413" width="1" height="2" fill="#ffffff"/>
<rect x="407" y="405" width="1" height="8" fill="#009400"/>
<rect x="406" y="405" width="3" height="7" fill="#009400"/>
<rect x="407" y="406" width="1" height="5" fill="#ffffff"/>
<rect x="410" y="397" width="1" height="12" fill="#009400"/>
<rect x="409" y="399" width="3" height="4" fill="#009400"/>
<rect x="410" y="400" width="1" height="2" fill="#ffffff"/>
<rect x="413" y="397" width="1" height="4" fill="#ff0000"/>
<rect x="412" y="398" width="3" height="2" fill="#ff0000"/>
<rect x="416" y="400" width="1" height="5" fill="#ff0000"/>
<rect x="415" y="401" width="3" height="1" fill="#ff0000"/>
<rect x="419" y="395" width="1" height="9" fill="#009400"/>
<rect x="418" y="398" width="2" height="3" fill="#009400"/>
<rect x="421" y="397" width="1" height="7" fill="#ff0000"/>
<rect x="420" y="398" width="3" height="5" fill="#ff0000"/>
<rect x="424" y="403" width="1" height="7" fill="#ff0000"/>
<rect x="423" y="404" width="3" height="5" fill="#ff0000"/>
<rect x="427" y="406" width="1" height="9" fill="#009400"/>
<rect x="426" y="406" width="3" height="8" fill="#009400"/>
<rect x="427" y="407" width="1" height="6" fill="#ffffff"/>
<rect x="430" y="400" width="1" height="8" fill="#009400"/>
<rect x="429" y="400" width="3" height="6" fill="#009400"/>
<rect x="430" y="401" width="1" height="4" fill="#ffffff"/>
<rect x="433" y="396" width="1" height="9" fill="#009400"/>
<rect x="432" y="397" width="3" height="5" fill="#009400"/>
<rect x="433" y="398" width="1" height="3" fill="#ffffff"/>
<rect x="436" y="396" width="1" height="5" fill="#009400"/>
<rect x="435" y="397" width="3" height="2" fill="#009400"/>
<rect x="439" y="390" width="1" height="8" fill="#009400"/>
<rect x="438" y="390" width="3" height="8" fill="#009400"/>
<rect x="439" y="391" width="1" height="6" fill="#ffffff"/>
<rect x="442" y="388" width="1" height="3" fill="#009400"/>
<rect x="441" y="388" width="3" height="3" fill="#009400"/>
<rect x="442" y="389" width="1" height="1" fill="#ffffff"/>
<rect x="445" y="381" width="1" height="8" fill="#009400"/>
<rect x="444" y="381" width="3" height="7" fill="#009400"/>
<rect x="445" y="382" width="1" height="5" fill="#ffffff"/>
<rect x="448" y="376" width="1" height="6" fill="#009400"/>
<rect x="447" y="379" width="3" height="2" fill="#009400"/>
<rect x="451" y="376" width="1" height="7" fill="#ff0000"/>
<rect x="450" y="380" width="3" height="1" fill="#ff0000"/>
<rect x="454" y="377" width="1" height="7" fill="#ff0000"/>
<rect x="453" y="383" width="3" height="1" fill="#ff0000"/>
<rect x="457" y="382" width="1" height="52" fill="#ff0000"/>
<rect x="456" y="385" width="3" height="31" fill="#ff0000"/>
<rect x="460" y="413" width="1" height="48" fill="#009400"/>
<rect x="459" y="414" width="3" height="16" fill="#009400"/>
<rect x="460" y="415" width="1" height="14" fill="#ffffff"/>
<rect x="463" y="406" width="1" height="17" fill="#ff0000"/>
<rect x="462" y="409" width="3" height="6" fill="#ff0000"/>
<rect x="466" y="411" width="1" height="30" fill="#009400"/>
<rect x="465" y="412" width="3" height="2" fill="#009400"/>
<rect x="469" y="410" width="1" height="4" fill="#ff0000"/>
<rect x="468" y="411" width="3" height="2" fill="#ff0000"/>
<rect x="472" y="396" width="1" height="17" fill="#009400"/>
<rect x="471" y="400" width="3" height="13" fill="#009400"/>
<rect x="472" y="401" width="1" height="11" fill="#ffffff"/>
<rect x="475" y="384" width="1" height="17" fill="#009400"/>
<rect x="474" y="389" width="3" height="11" fill="#009400"/>
<rect x="475" y="390" width="1" height="9" fill="#ffffff"/>
<rect x="478" y="379" width="1" height="14" fill="#009400"/>
<rect x="477" y="386" width="3" height="5" fill="#009400"/>
<rect x="478" y="387" width="1" height="3" fill="#ffffff"/>
<rect x="481" y="374" width="1" height="19" fill="#009400"/>
<rect x="480" y="379" width="3" height="7" fill="#009400"/>
<rect x="481" y="380" width="1" height="5" fill="#ffffff"/>
<rect x="484" y="373" width="1" height="9" fill="#ff0000"/>
<rect x="483" y="379" width="3" height="1" fill="#ff0000"/>
<rect x="487" y="379" width="1" height="10" fill="#ff0000"/>
<rect x="486" y="379" width="3" height="6" fill="#ff0000"/>
<rect x="490" y="374" width="1" height="13" fill="#009400"/>
<rect x="489" y="374" width="3" height="12" fill="#009400"/>
<rect x="490" y="375" width="1" height="10" fill="#ffffff"/>
<rect x="493" y="367" width="1" height="10" fill="#009400"/>
<rect x="492" y="367" width="3" height="7" fill="#009400"/>
<rect x="493" y="368" width="1" height="5" fill="#ffffff"/>
<rect x="496" y="361" width="1" height="7" fill="#009400"/>
<rect x="495" y="362" width="3" height="5" fill="#009400"/>
<rect x="496" y="363" width="1" height="3" fill="#ffffff"/>
<rect x="499" y="338" width="1" height="24" fill="#009400"/>
<rect x="498" y="340" width="3" height="21" fill="#009400"/>
<rect x="499" y="341" width="1" height="19" fill="#ffffff"/>
<rect x="502" y="327" width="1" height="9" fill="#009400"/>
<rect x="501" y="327" width="2" height="8" fill="#009400"/>
<rect x="504" y="315" width="1" height="19" fill="#009400"/>
<rect x="503" y="318" width="3" height="6" fill="#009400"/>
<rect x="504" y="319" width="1" height="4" fill="#ffffff"/>
<rect x="507" y="306" width="1" height="26" fill="#ff0000"/>
<rect x="506" y="313" width="3" height="14" fill="#ff0000"/>
<rect x="510" y="298" width="1" height="31" fill="#009400"/>
<rect x="509" y="300" width="3" height="29" fill="#009400"/>
<rect x="510" y="301" width="1" height="27" fill="#ffffff"/>
<rect x="513" y="274" width="1" height="26" fill="#009400"/>
<rect x="512" y="285" width="3" height="14" fill="#009400"/>
<rect x="513" y="286" width="1" height="12" fill="#ffffff"/>
<rect x="516" y="265" width="1" height="25" fill="#009400"/>
<rect x="515" y="280" width="3" height="4" fill="#009400"/>
<rect x="516" y="281" width="1" height="2" fill="#ffffff"/>
<rect x="519" y="268" width="1" height="26" fill="#009400"/>
<rect x="518" y="269" width="3" height="8" fill="#009400"/>
<rect x="519" y="270" width="1" height="6" fill="#ffffff"/>
<rect x="522" y="260" width="1" height="15" fill="#ff0000"/>
<rect x="521" y="269" width="3" height="5" fill="#ff0000"/>
<rect x="525" y="272" width="1" height="21" fill="#009400"/>
<rect x="524" y="274" width="3" height="3" fill="#009400"/>
<rect x="525" y="275" width="1" height="1" fill="#ffffff"/>
<rect x="528" y="264" width="1" height="15" fill="#ff0000"/>
<rect x="527" y="272" width="3" height="4" fill="#ff0000"/>
<rect x="531" y="272" width="1" height="18" fill="#009400"/>
<rect x="530" y="277" width="3" height="1" fill="#009400"/>
<rect x="534" y="270" width="1" height="13" fill="#ff0000"/>
<rect x="533" y="276" width="3" height="4" fill="#ff0000"/>
<rect x="537" y="248" width="1" height="27" fill="#009400"/>
<rect x="536" y="248" width="3" height="25" fill="#009400"/>
<rect x="537" y="249" width="1" height="23" fill="#ffffff"/>
<rect x="540" y="233" width="1" height="21" fill="#ff0000"/>
<rect x="539" y="251" width="3" height="2" fill="#ff0000"/>
<rect x="543" y="253" width="1" height="35" fill="#ff0000"/>
<rect x="542" y="256" width="3" height="13" fill="#ff0000"/>
<rect x="546" y="264" width="1" height="24" fill="#ff0000"/>
<rect x="545" y="264" width="3" height="18" fill="#ff0000"/>
<rect x="549" y="276" width="1" height="20" fill="#ff0000"/>
<rect x="548" y="281" width="3" height="14" fill="#ff0000"/>
<rect x="552" y="282" width="1" height="20" fill="#009400"/>
<rect x="551" y="284" width="3" height="12" fill="#009400"/>
<rect x="552" y="285" width="1" height="10" fill="#ffffff"/>
<polyline points="-0.5,460.5 11.5,458.1 23.5,456.5 39.5,454.5 55.5,452.5 71.5,450.1 87.5,449.2 103.5,448.5 127.5,447.7 147.5,446.7 167.5,444.5 187.5,443.1 207.5,441.1 227.5,438.5 247.5,437.9 255.5,437.5 265.5,436.5 275.5,433.9 285.5,431.5 295.5,429.1 305.5,427.7 315.5,425.7 325.5,423.5 335.5,421.1 345.5,418.9 355.5,416.9 365.5,414.9 375.5,412.9 383.5,411.9 403.5,410.5 423.5,409.5 443.5,408.9 463.5,409.1 483.5,409.5 499.5,408.9 509.5,407.9 519.5,406.5 529.5,405.1 539.5,404.1 551.9,403.5" fill="none" stroke="#ff0000" stroke-width="1"/>
<polyline points="0.5,460.5 12.5,458.1 24.5,456.5 40.5,454.5 56.5,452.5 72.5,450.1 88.5,449.2 104.5,448.5 128.5,447.7 148.5,446.7 168.5,444.5 188.5,443.1 208.5,441.1 228.5,438.5 248.5,437.9 256.5,437.5 266.5,436.5 276.5,433.9 286.5,431.5 296.5,429.1 306.5,427.7 316.5,425.7 326.5,423.5 336.5,421.1 346.5,418.9 356.5,416.9 366.5,414.9 376.5,412.9 384.5,411.9 404.5,410.5 424.5,409.5 444.5,408.9 464.5,409.1 484.5,409.5 500.5,408.9 510.5,407.9 520.5,406.5 530.5,405.1 540.5,404.1 552.9,403.5" fill="none" stroke="#ff0000" stroke-width="1"/>
<polyline points="-0.5,461.5 11.5,459.1 23.5,457.5 39.5,455.5 55.5,453.5 71.5,451.1 87.5,450.2 103.5,449.5 127.5,448.7 147.5,447.7 167.5,445.5 187.5,444.1 207.5,442.1 227.5,439.5 247.5,438.9 255.5,438.5 265.5,437.5 275.5,434.9 285.5,432.5 295.5,430.1 305.5,428.7 315.5,426.7 325.5,424.5 335.5,422.1 345.5,419.9 355.5,417.9 365.5,415.9 375.5,413.9 383.5,412.9 403.5,411.5 423.5,410.5 443.5,409.9 463.5,410.1 483.5,410.5 499.5,409.9 509.5,408.9 519.5,407.5 529.5,406.1 539.5,405.1 551.9,404.5" fill="none" stroke="#ff0000" stroke-width="1"/>
<polyline points="0.5,461.5 12.5,459.1 24.5,457.5 40.5,455.5 56.5,453.5 72.5,451.1 88.5,450.2 104.5,449.5 128.5,448.7 148.5,447.7 168.5,445.5 188.5,444.1 208.5,442.1 228.5,439.5 248.5,438.9 256.5,438.5 266.5,437.5 276.5,434.9 286.5,432.5 296.5,430.1 306.5,428.7 316.5,426.7 326.5,424.5 336.5,422.1 346.5,419.9 356.5,417.9 366.5,415.9 376.5,413.9 384.5,412.9 404.5,411.5 424.5,410.5 444.5,409.9 464.5,410.1 484.5,410.5 500.5,409.9 510.5,408.9 520.5,407.5 530.5,406.1 540.5,405.1 552.9,404.5" fill="none" stroke="#ff0000" stroke-width="1"/>
<polyline points="-0.5,420.5 5.5,416.5 11.5,414.5 19.5,410.5 27.5,407.1 39.5,403.1 49.5,399.1 59.5,395.5 69.5,392.5 79.5,390.9 85.5,390.3 93.5,390.9 103.5,392.5 115.5,393.5 127.5,394.1 139.5,396.5 151.5,398.5 163.5,401.5 171.5,405.1 183.5,407.5 195.5,409.5 207.5,410.5 219.5,412.9 231.5,415.0 235.5,417.8 243.5,420.5 251.5,424.5 255.5,426.3 258.5,427.5 265.5,430.0 271.5,432.5 277.5,434.5 285.5,436.7 292.5,438.5 299.5,439.3 311.5,439.8 337.5,439.8 339.5,438.8 370.5,438.6 373.5,436.5 377.5,435.1 383.5,433.9 395.5,430.5 407.5,427.5 419.5,425.5 431.5,423.1 443.5,419.5 455.5,416.5 467.5,413.9 479.5,411.9 491.5,410.1 499.5,408.3 505.5,406.1 509.5,404.5 514.5,402.1 519.5,400.1 525.5,396.5 533.5,391.5 541.5,386.5 547.5,383.1 551.9,381.5" fill="none" stroke="#000" stroke-width="1"/>
<polyline points="0.5,420.5 6.5,416.5 12.5,414.5 20.5,410.5 28.5,407.1 40.5,403.1 50.5,399.1 60.5,395.5 70.5,392.5 80.5,390.9 86.5,390.3 94.5,390.9 104.5,392.5 116.5,393.5 128.5,394.1 140.5,396.5 152.5,398.5 164.5,401.5 172.5,405.1 184.5,407.5 196.5,409.5 208.5,410.5 220.5,412.9 232.5,415.0 236.5,417.8 244.5,420.5 252.5,424.5 256.5,426.3 259.5,427.5 266.5,430.0 272.5,432.5 278.5,434.5 286.5,436.7 293.5,438.5 300.5,439.3 312.5,439.8 338.5,439.8 340.5,438.8 371.5,438.6 374.5,436.5 378.5,435.1 384.5,433.9 396.5,430.5 408.5,427.5 420.5,425.5 432.5,423.1 444.5,419.5 456.5,416.5 468.5,413.9 480.5,411.9 492.5,410.1 500.5,408.3 506.5,406.1 510.5,404.5 515.5,402.1 520.5,400.1 526.5,396.5 534.5,391.5 542.5,386.5 548.5,383.1 552.9,381.5" fill="none" stroke="#000" stroke-width="1"/>
<polyline points="-0.5,421.5 5.5,417.5 11.5,415.5 19.5,411.5 27.5,408.1 39.5,404.1 49.5,400.1 59.5,396.5 69.5,393.5 79.5,391.9 85.5,391.3 93.5,391.9 103.5,393.5 115.5,394.5 127.5,395.1 139.5,397.5 151.5,399.5 163.5,402.5 171.5,406.1 183.5,408.5 195.5,410.5 207.5,411.5 219.5,413.9 231.5,416.0 235.5,418.8 243.5,421.5 251.5,425.5 255.5,427.3 258.5,428.5 265.5,431.0 271.5,433.5 277.5,435.5 285.5,437.7 292.5,439.5 299.5,440.3 311.5,440.8 337.5,440.8 339.5,439.8 370.5,439.6 373.5,437.5 377.5,436.1 383.5,434.9 395.5,431.5 407.5,428.5 419.5,426.5 431.5,424.1 443.5,420.5 455.5,417.5 467.5,414.9 479.5,412.9 491.5,411.1 499.5,409.3 505.5,407.1 509.5,405.5 514.5,403.1 519.5,401.1 525.5,397.5 533.5,392.5 541.5,387.5 547.5,384.1 551.9,382.5" fill="none" stroke="#000" stroke-width="1"/>
<polyline points="0.5,421.5 6.5,417.5 12.5,415.5 20.5,411.5 28.5,408.1 40.5,404.1 50.5,400.1 60.5,396.5 70.5,393.5 80.5,391.9 86.5,391.3 94.5,391.9 104.5,393.5 116.5,394.5 128.5,395.1 140.5,397.5 152.5,399.5 164.5,402.5 172.5,406.1 184.5,408.5 196.5,410.5 208.5,411.5 220.5,413.9 232.5,416.0 236.5,418.8 244.5,421.5 252.5,425.5 256.5,427.3 259.5,428.5 266.5,431.0 272.5,433.5 278.5,435.5 286.5,437.7 293.5,439.5 300.5,440.3 312.5,440.8 338.5,440.8 340.5,439.8 371.5,439.6 374.5,437.5 378.5,436.1 384.5,434.9 396.5,431.5 408.5,428.5 420.5,426.5 432.5,424.1 444.5,420.5 456.5,417.5 468.5,414.9 480.5,412.9 492.5,411.1 500.5,409.3 506.5,407.1 510.5,405.5 515.5,403.1 520.5,401.1 526.5,397.5 534.5,392.5 542.5,387.5 548.5,384.1 552.9,382.5" fill="none" stroke="#000" stroke-width="1"/>
<polyline points="0.0,319.0 4.0,314.0 8.0,307.0 11.0,296.0 13.6,288.0 16.0,285.0 20.0,287.0 24.0,290.5 26.0,289.6 30.0,289.6 37.0,296.0 38.0,297.0 43.0,308.0 48.0,318.0 52.0,330.0 56.0,350.0 60.0,367.0 64.0,375.0 69.0,385.6 72.0,382.0 76.0,376.0 80.0,374.0 84.0,373.4 88.0,369.4 94.0,366.4 98.0,367.6 104.0,372.0 108.0,380.0 112.0,390.0 116.0,399.0 118.0,406.0 122.0,420.0 126.0,433.8 128.0,440.0 131.0,445.0 140.0,446.4 151.0,447.0 157.0,451.0 168.0,451.5 172.0,452.5 175.0,452.0 180.0,450.0 184.0,448.0 188.0,444.5 192.0,440.0 194.0,436.0 198.0,426.0 202.0,419.0 206.0,412.0 210.0,407.0 214.0,402.0 218.0,398.4 224.0,397.4 228.0,398.4 232.0,401.0 236.0,401.0 242.0,399.0 248.0,398.0 256.0,400.0 260.0,403.0 264.0,408.0 269.0,410.0 273.0,412.0 276.0,417.0 279.0,421.0 282.0,420.5 286.0,416.0 290.0,410.0 294.0,404.0 298.0,396.5 302.0,390.5 307.0,386.0 312.0,384.8 316.0,386.4 322.0,387.8 331.0,387.0 333.0,385.6 342.0,385.4 350.0,385.0 358.0,385.0 362.0,385.6 364.0,386.6 369.0,386.0 374.0,389.4 379.0,389.0 384.0,388.5 389.0,387.5 396.0,388.5 406.0,388.5 407.0,389.2 424.0,389.2 430.0,391.5 433.0,391.0 438.0,389.0 444.0,386.0 448.0,382.0 454.0,378.0 460.0,377.0 466.0,376.4 472.0,375.6 478.0,373.5 484.0,370.0 490.0,365.0 494.0,360.0 498.0,353.0 501.0,342.0 503.0,334.0 506.0,323.0 510.0,305.0 514.0,289.0 518.0,271.0 521.0,260.0 524.0,252.0 528.0,244.0 532.0,239.0 535.0,234.0 538.0,226.0 540.0,222.6 543.0,221.0 546.0,223.4 549.0,228.0 551.6,232.6" fill="none" stroke="#ff0000" stroke-width="1"/>
<polyline points="0.0,330.0 4.0,333.6 8.0,336.0 14.0,342.0 20.0,350.0 26.0,358.0 32.0,367.0 38.0,376.0 44.0,386.0 50.0,394.0 56.0,400.0 60.0,402.5 68.0,408.0 74.0,413.0 80.0,420.0 88.0,430.0 96.0,439.0 104.0,447.0 112.0,456.0 120.0,464.0 128.0,471.5 134.0,472.6 140.0,472.6 146.0,472.0 151.0,468.5 155.0,467.0 168.0,467.0 170.0,465.0 182.0,465.0 188.0,463.0 192.0,461.0 198.0,457.0 204.0,452.0 210.0,447.0 216.0,442.0 222.0,435.5 226.0,433.5 228.0,431.5 232.0,430.0 236.0,430.0 244.0,432.0 252.0,434.5 256.0,436.0 264.0,439.6 272.0,443.0 278.0,444.4 284.0,443.0 290.0,440.0 296.0,435.0 302.0,430.0 308.0,425.0 312.0,422.5 316.0,419.5 320.0,417.0 326.0,413.0 333.0,410.0 338.0,406.0 342.0,404.5 350.0,403.0 353.0,401.5 357.0,404.5 368.0,404.0 372.0,402.5 376.0,400.0 384.0,400.0 391.0,399.8 393.0,401.2 396.0,402.6 404.0,402.6 426.0,402.3 440.0,402.0 444.0,401.0 448.0,400.0 456.0,398.6 464.0,399.6 472.0,400.0 478.0,398.2 486.0,395.0 494.0,391.0 502.0,383.6 510.0,373.0 516.0,360.0 522.0,348.0 527.0,337.5 530.0,331.0 534.0,321.0 538.0,313.0 542.0,306.0 546.0,300.0 550.0,295.4 552.0,294.0" fill="none" stroke="#ff0000" stroke-width="1"/>
<polyline points="0.0,341.0 4.0,355.0 8.0,372.0 11.0,388.0 14.0,400.0 20.0,411.0 25.0,422.0 30.0,434.0 34.0,445.0 38.0,454.0 42.0,459.0 46.0,462.0 50.0,461.0 54.0,454.0 58.0,446.0 62.0,440.0 66.0,437.0 70.0,436.4 74.0,448.0 78.0,468.0 82.0,478.0 86.0,488.0 88.0,490.0 92.0,506.0 96.0,515.0 100.0,518.0 104.0,521.6 110.0,525.6 114.0,523.0 118.0,518.0 122.0,511.0 128.0,499.6 141.0,499.0 146.0,497.0 151.0,489.0 155.0,483.0 158.0,482.0 166.0,483.5 169.0,479.5 182.0,479.5 185.0,481.0 192.0,483.5 196.0,485.0 203.0,487.6 208.0,486.4 214.0,483.0 220.0,477.0 224.0,471.0 228.0,465.0 232.0,460.0 235.0,458.0 240.0,462.0 244.0,465.0 250.0,468.0 256.0,471.5 262.0,473.4 268.0,472.0 276.0,468.0 280.0,466.4 286.0,469.0 294.0,473.6 298.0,470.0 304.0,467.0 310.0,461.0 316.0,456.0 320.0,447.0 324.0,442.0 330.0,434.5 334.0,432.0 338.0,426.0 343.0,422.5 346.0,421.0 354.0,419.8 357.0,422.5 369.0,422.2 373.0,416.0 376.0,414.5 384.0,411.8 390.0,411.0 396.0,412.5 401.0,415.5 405.0,416.5 414.0,416.5 417.0,414.0 422.0,413.0 424.0,414.0 440.0,414.0 443.0,415.5 448.0,419.0 454.0,420.5 460.0,421.0 467.5,423.5 482.5,423.5 486.0,421.3 495.0,421.3 498.8,425.0 502.5,432.5 505.0,437.5 508.8,440.0 513.0,448.8 516.0,449.0 520.0,446.3 523.0,439.0 527.0,428.0 531.0,416.0 535.0,407.0 539.0,399.0 542.0,390.0 545.0,378.0 548.0,366.0 550.0,358.0 552.4,349.0" fill="none" stroke="#ff0000" stroke-width="1"/>
<rect x="587" y="203" width="1" height="338" fill="#000"/>
<rect x="587" y="535" width="4" height="1" fill="#000"/>
<rect x="587" y="532" width="9" height="1" fill="#000"/>
<rect x="587" y="528" width="4" height="1" fill="#000"/>
<rect x="587" y="525" width="4" height="1" fill="#000"/>
<rect x="587" y="522" width="4" height="1" fill="#000"/>
<rect x="587" y="519" width="4" height="1" fill="#000"/>
<rect x="587" y="516" width="9" height="1" fill="#000"/>
<rect x="587" y="513" width="4" height="1" fill="#000"/>
<rect x="587" y="509" width="4" height="1" fill="#000"/>
<rect x="587" y="506" width="4" height="1" fill="#000"/>
<rect x="587" y="503" width="4" height="1" fill="#000"/>
<rect x="587" y="500" width="9" height="1" fill="#000"/>
<rect x="587" y="497" width="4" height="1" fill="#000"/>
<rect x="587" y="494" width="4" height="1" fill="#000"/>
<rect x="587" y="490" width="4" height="1" fill="#000"/>
<rect x="587" y="487" width="4" height="1" fill="#000"/>
<rect x="587" y="484" width="9" height="1" fill="#000"/>
<rect x="587" y="481" width="4" height="1" fill="#000"/>
<rect x="587" y="478" width="4" height="1" fill="#000"/>
<rect x="587" y="475" width="4" height="1" fill="#000"/>
<rect x="587" y="472" width="4" height="1" fill="#000"/>
<rect x="587" y="468" width="9" height="1" fill="#000"/>
<rect x="587" y="465" width="4" height="1" fill="#000"/>
<rect x="587" y="462" width="4" height="1" fill="#000"/>
<rect x="587" y="459" width="4" height="1" fill="#000"/>
<rect x="587" y="456" width="4" height="1" fill="#000"/>
<rect x="587" y="453" width="9" height="1" fill="#000"/>
<rect x="587" y="449" width="4" height="1" fill="#000"/>
<rect x="587" y="446" width="4" height="1" fill="#000"/>
<rect x="587" y="443" width="4" height="1" fill="#000"/>
<rect x="587" y="440" width="4" height="1" fill="#000"/>
<rect x="587" y="437" width="9" height="1" fill="#000"/>
<rect x="587" y="434" width="4" height="1" fill="#000"/>
<rect x="587" y="431" width="4" height="1" fill="#000"/>
<rect x="587" y="427" width="4" height="1" fill="#000"/>
<rect x="587" y="424" width="4" height="1" fill="#000"/>
<rect x="587" y="421" width="9" height="1" fill="#000"/>
<rect x="587" y="418" width="4" height="1" fill="#000"/>
<rect x="587" y="415" width="4" height="1" fill="#000"/>
<rect x="587" y="412" width="4" height="1" fill="#000"/>
<rect x="587" y="408" width="4" height="1" fill="#000"/>
<rect x="587" y="405" width="9" height="1" fill="#000"/>
<rect x="587" y="402" width="4" height="1" fill="#000"/>
<rect x="587" y="399" width="4" height="1" fill="#000"/>
<rect x="587" y="396" width="4" height="1" fill="#000"/>
<rect x="587" y="393" width="4" height="1" fill="#000"/>
<rect x="587" y="390" width="9" height="1" fill="#000"/>
<rect x="587" y="386" width="4" height="1" fill="#000"/>
<rect x="587" y="383" width="4" height="1" fill="#000"/>
<rect x="587" y="380" width="4" height="1" fill="#000"/>
<rect x="587" y="377" width="4" height="1" fill="#000"/>
<rect x="587" y="374" width="9" height="1" fill="#000"/>
<rect x="587" y="371" width="4" height="1" fill="#000"/>
<rect x="587" y="367" width="4" height="1" fill="#000"/>
<rect x="587" y="364" width="4" height="1" fill="#000"/>
<rect x="587" y="361" width="4" height="1" fill="#000"/>
<rect x="587" y="358" width="9" height="1" fill="#000"/>
<rect x="587" y="355" width="4" height="1" fill="#000"/>
<rect x="587" y="352" width="4" height="1" fill="#000"/>
<rect x="587" y="349" width="4" height="1" fill="#000"/>
<rect x="587" y="345" width="4" height="1" fill="#000"/>
<rect x="587" y="342" width="9" height="1" fill="#000"/>
<rect x="587" y="339" width="4" height="1" fill="#000"/>
<rect x="587" y="336" width="4" height="1" fill="#000"/>
<rect x="587" y="333" width="4" height="1" fill="#000"/>
<rect x="587" y="330" width="4" height="1" fill="#000"/>
<rect x="587" y="326" width="9" height="1" fill="#000"/>
<rect x="587" y="323" width="4" height="1" fill="#000"/>
<rect x="587" y="320" width="4" height="1" fill="#000"/>
<rect x="587" y="317" width="4" height="1" fill="#000"/>
<rect x="587" y="314" width="4" height="1" fill="#000"/>
<rect x="587" y="311" width="9" height="1" fill="#000"/>
<rect x="587" y="308" width="4" height="1" fill="#000"/>
<rect x="587" y="304" width="4" height="1" fill="#000"/>
<rect x="587" y="301" width="4" height="1" fill="#000"/>
<rect x="587" y="298" width="4" height="1" fill="#000"/>
<rect x="587" y="295" width="9" height="1" fill="#000"/>
<rect x="587" y="292" width="4" height="1" fill="#000"/>
<rect x="587" y="289" width="4" height="1" fill="#000"/>
<rect x="587" y="285" width="4" height="1" fill="#000"/>
<rect x="587" y="282" width="4" height="1" fill="#000"/>
<rect x="587" y="279" width="9" height="1" fill="#000"/>
<rect x="587" y="276" width="4" height="1" fill="#000"/>
<rect x="587" y="273" width="4" height="1" fill="#000"/>
<rect x="587" y="270" width="4" height="1" fill="#000"/>
<rect x="587" y="267" width="4" height="1" fill="#000"/>
<rect x="587" y="263" width="9" height="1" fill="#000"/>
<rect x="587" y="260" width="4" height="1" fill="#000"/>
<rect x="587" y="257" width="4" height="1" fill="#000"/>
<rect x="587" y="254" width="4" height="1" fill="#000"/>
<rect x="587" y="251" width="4" height="1" fill="#000"/>
<rect x="587" y="248" width="9" height="1" fill="#000"/>
<rect x="587" y="244" width="4" height="1" fill="#000"/>
<rect x="587" y="241" width="4" height="1" fill="#000"/>
<rect x="587" y="238" width="4" height="1" fill="#000"/>
<rect x="587" y="235" width="4" height="1" fill="#000"/>
<rect x="587" y="232" width="9" height="1" fill="#000"/>
<rect x="587" y="229" width="4" height="1" fill="#000"/>
<rect x="587" y="226" width="4" height="1" fill="#000"/>
<rect x="587" y="222" width="4" height="1" fill="#000"/>
<rect x="587" y="219" width="4" height="1" fill="#000"/>
<rect x="587" y="216" width="9" height="1" fill="#000"/>
<rect x="587" y="213" width="4" height="1" fill="#000"/>
<rect x="587" y="210" width="4" height="1" fill="#000"/>
<rect x="587" y="207" width="4" height="1" fill="#000"/>
<rect x="587" y="203" width="4" height="1" fill="#000"/>
<rect x="592" y="275" width="41" height="16" fill="#000"/>
<rect x="-1" y="614" width="2" height="23" fill="#009400"/>
<rect x="2" y="603" width="2" height="34" fill="#009400"/>
<rect x="5" y="611" width="2" height="26" fill="#009400"/>
<rect x="8" y="622" width="2" height="15" fill="#009400"/>
<rect x="11" y="610" width="2" height="27" fill="#009400"/>
<rect x="14" y="613" width="2" height="24" fill="#009400"/>
<rect x="17" y="612" width="2" height="25" fill="#009400"/>
<rect x="20" y="614" width="2" height="23" fill="#009400"/>
<rect x="23" y="612" width="2" height="25" fill="#009400"/>
<rect x="26" y="609" width="2" height="28" fill="#009400"/>
<rect x="29" y="613" width="2" height="24" fill="#009400"/>
<rect x="32" y="614" width="2" height="23" fill="#009400"/>
<rect x="35" y="616" width="2" height="21" fill="#009400"/>
<rect x="38" y="613" width="2" height="24" fill="#009400"/>
<rect x="41" y="613" width="2" height="24" fill="#009400"/>
<rect x="44" y="615" width="2" height="22" fill="#009400"/>
<rect x="47" y="606" width="2" height="31" fill="#009400"/>
<rect x="50" y="608" width="2" height="29" fill="#009400"/>
<rect x="53" y="610" width="2" height="27" fill="#009400"/>
<rect x="56" y="611" width="2" height="26" fill="#009400"/>
<rect x="59" y="620" width="2" height="17" fill="#009400"/>
<rect x="62" y="610" width="2" height="27" fill="#009400"/>
<rect x="65" y="615" width="2" height="22" fill="#009400"/>
<rect x="68" y="616" width="2" height="21" fill="#009400"/>
<rect x="71" y="612" width="2" height="25" fill="#009400"/>
<rect x="74" y="612" width="2" height="25" fill="#009400"/>
<rect x="77" y="614" width="2" height="23" fill="#009400"/>
<rect x="80" y="616" width="2" height="21" fill="#009400"/>
<rect x="82" y="612" width="2" height="25" fill="#009400"/>
<rect x="85" y="611" width="2" height="26" fill="#009400"/>
<rect x="88" y="611" width="2" height="26" fill="#009400"/>
<rect x="91" y="604" width="2" height="33" fill="#009400"/>
<rect x="94" y="609" width="2" height="28" fill="#009400"/>
<rect x="97" y="590" width="2" height="47" fill="#009400"/>
<rect x="100" y="592" width="2" height="45" fill="#009400"/>
<rect x="103" y="603" width="2" height="34" fill="#009400"/>
<rect x="106" y="605" width="2" height="32" fill="#009400"/>
<rect x="109" y="616" width="2" height="21" fill="#009400"/>
<rect x="112" y="616" width="2" height="21" fill="#009400"/>
<rect x="115" y="616" width="2" height="21" fill="#009400"/>
<rect x="118" y="617" width="2" height="20" fill="#009400"/>
<rect x="121" y="631" width="2" height="6" fill="#009400"/>
<rect x="124" y="605" width="2" height="32" fill="#009400"/>
<rect x="127" y="616" width="2" height="21" fill="#009400"/>
<rect x="130" y="616" width="2" height="21" fill="#009400"/>
<rect x="133" y="608" width="2" height="29" fill="#009400"/>
<rect x="136" y="618" width="2" height="19" fill="#009400"/>
<rect x="139" y="615" width="2" height="22" fill="#009400"/>
<rect x="142" y="613" width="2" height="24" fill="#009400"/>
<rect x="145" y="617" width="2" height="20" fill="#009400"/>
<rect x="148" y="612" width="2" height="25" fill="#009400"/>
<rect x="151" y="602" width="2" height="35" fill="#009400"/>
<rect x="154" y="606" width="2" height="31" fill="#009400"/>
<rect x="157" y="616" width="2" height="21" fill="#009400"/>
<rect x="160" y="614" width="2" height="23" fill="#009400"/>
<rect x="163" y="627" width="2" height="10" fill="#009400"/>
<rect x="166" y="608" width="2" height="29" fill="#009400"/>
<rect x="168" y="606" width="2" height="31" fill="#009400"/>
<rect x="171" y="607" width="2" height="30" fill="#009400"/>
<rect x="174" y="598" width="2" height="39" fill="#009400"/>
<rect x="177" y="594" width="2" height="43" fill="#009400"/>
<rect x="180" y="599" width="2" height="38" fill="#009400"/>
<rect x="183" y="602" width="2" height="35" fill="#009400"/>
<rect x="186" y="603" width="2" height="34" fill="#009400"/>
<rect x="189" y="605" width="2" height="32" fill="#009400"/>
<rect x="192" y="599" width="2" height="38" fill="#009400"/>
<rect x="195" y="600" width="2" height="37" fill="#009400"/>
<rect x="198" y="593" width="2" height="44" fill="#009400"/>
<rect x="201" y="589" width="2" height="48" fill="#009400"/>
<rect x="204" y="590" width="2" height="47" fill="#009400"/>
<rect x="207" y="588" width="2" height="49" fill="#009400"/>
<rect x="210" y="598" width="2" height="39" fill="#009400"/>
<rect x="213" y="605" width="2" height="32" fill="#009400"/>
<rect x="216" y="599" width="2" height="38" fill="#009400"/>
<rect x="219" y="589" width="2" height="48" fill="#009400"/>
<rect x="222" y="595" width="2" height="42" fill="#009400"/>
<rect x="225" y="602" width="2" height="35" fill="#009400"/>
<rect x="228" y="607" width="2" height="30" fill="#009400"/>
<rect x="231" y="610" width="2" height="27" fill="#009400"/>
<rect x="234" y="606" width="2" height="31" fill="#009400"/>
<rect x="237" y="607" width="2" height="30" fill="#009400"/>
<rect x="240" y="607" width="2" height="30" fill="#009400"/>
<rect x="243" y="601" width="2" height="36" fill="#009400"/>
<rect x="246" y="599" width="2" height="38" fill="#009400"/>
<rect x="249" y="599" width="2" height="38" fill="#009400"/>
<rect x="251" y="610" width="2" height="27" fill="#009400"/>
<rect x="254" y="595" width="2" height="42" fill="#009400"/>
<rect x="257" y="607" width="2" height="30" fill="#009400"/>
<rect x="260" y="613" width="2" height="24" fill="#009400"/>
<rect x="263" y="610" width="2" height="27" fill="#009400"/>
<rect x="266" y="606" width="2" height="31" fill="#009400"/>
<rect x="269" y="597" width="2" height="40" fill="#009400"/>
<rect x="272" y="609" width="2" height="28" fill="#009400"/>
<rect x="275" y="609" width="2" height="28" fill="#009400"/>
<rect x="278" y="605" width="2" height="32" fill="#009400"/>
<rect x="281" y="618" width="2" height="19" fill="#009400"/>
<rect x="284" y="621" width="2" height="16" fill="#009400"/>
<rect x="287" y="594" width="2" height="43" fill="#009400"/>
<rect x="290" y="595" width="2" height="42" fill="#009400"/>
<rect x="293" y="589" width="2" height="48" fill="#009400"/>
<rect x="296" y="595" width="2" height="42" fill="#009400"/>
<rect x="299" y="586" width="2" height="51" fill="#009400"/>
<rect x="302" y="596" width="2" height="41" fill="#009400"/>
<rect x="305" y="593" width="2" height="44" fill="#009400"/>
<rect x="308" y="606" width="2" height="31" fill="#009400"/>
<rect x="311" y="600" width="2" height="37" fill="#009400"/>
<rect x="314" y="609" width="2" height="28" fill="#009400"/>
<rect x="317" y="626" width="2" height="11" fill="#009400"/>
<rect x="320" y="606" width="2" height="31" fill="#009400"/>
<rect x="323" y="603" width="2" height="34" fill="#009400"/>
<rect x="326" y="593" width="2" height="44" fill="#009400"/>
<rect x="329" y="601" width="2" height="36" fill="#009400"/>
<rect x="332" y="601" width="2" height="36" fill="#009400"/>
<rect x="334" y="598" width="2" height="39" fill="#009400"/>
<rect x="337" y="603" width="2" height="34" fill="#009400"/>
<rect x="340" y="606" width="2" height="31" fill="#009400"/>
<rect x="343" y="614" width="2" height="23" fill="#009400"/>
<rect x="346" y="607" width="2" height="30" fill="#009400"/>
<rect x="349" y="604" width="2" height="33" fill="#009400"/>
<rect x="352" y="609" width="2" height="28" fill="#009400"/>
<rect x="355" y="607" width="2" height="30" fill="#009400"/>
<rect x="358" y="607" width="2" height="30" fill="#009400"/>
<rect x="361" y="611" width="2" height="26" fill="#009400"/>
<rect x="364" y="607" width="2" height="30" fill="#009400"/>
<rect x="367" y="609" width="2" height="28" fill="#009400"/>
<rect x="370" y="621" width="2" height="16" fill="#009400"/>
<rect x="373" y="615" width="2" height="22" fill="#009400"/>
<rect x="376" y="611" width="2" height="26" fill="#009400"/>
<rect x="379" y="604" width="2" height="33" fill="#009400"/>
<rect x="382" y="601" width="2" height="36" fill="#009400"/>
<rect x="385" y="610" width="2" height="27" fill="#009400"/>
<rect x="388" y="609" width="2" height="28" fill="#009400"/>
<rect x="391" y="609" width="2" height="28" fill="#009400"/>
<rect x="394" y="615" width="2" height="22" fill="#009400"/>
<rect x="397" y="614" width="2" height="23" fill="#009400"/>
<rect x="400" y="609" width="2" height="28" fill="#009400"/>
<rect x="403" y="613" width="2" height="24" fill="#009400"/>
<rect x="406" y="617" width="2" height="20" fill="#009400"/>
<rect x="409" y="611" width="2" height="26" fill="#009400"/>
<rect x="412" y="614" width="2" height="23" fill="#009400"/>
<rect x="415" y="616" width="2" height="21" fill="#009400"/>
<rect x="418" y="612" width="2" height="25" fill="#009400"/>
<rect x="420" y="620" width="2" height="17" fill="#009400"/>
<rect x="423" y="617" width="2" height="20" fill="#009400"/>
<rect x="426" y="619" width="2" height="18" fill="#009400"/>
<rect x="429" y="617" width="2" height="20" fill="#009400"/>
<rect x="432" y="613" width="2" height="24" fill="#009400"/>
<rect x="435" y="611" width="2" height="26" fill="#009400"/>
<rect x="438" y="605" width="2" height="32" fill="#009400"/>
<rect x="441" y="601" width="2" height="36" fill="#009400"/>
<rect x="444" y="597" width="2" height="40" fill="#009400"/>
<rect x="447" y="596" width="2" height="41" fill="#009400"/>
<rect x="450" y="600" width="2" height="37" fill="#009400"/>
<rect x="453" y="604" width="2" height="33" fill="#009400"/>
<rect x="456" y="586" width="2" height="51" fill="#009400"/>
<rect x="459" y="595" width="2" height="42" fill="#009400"/>
<rect x="462" y="596" width="2" height="41" fill="#009400"/>
<rect x="465" y="596" width="2" height="41" fill="#009400"/>
<rect x="468" y="626" width="2" height="11" fill="#009400"/>
<rect x="471" y="605" width="2" height="32" fill="#009400"/>
<rect x="474" y="596" width="2" height="41" fill="#009400"/>
<rect x="477" y="596" width="2" height="41" fill="#009400"/>
<rect x="480" y="594" width="2" height="43" fill="#009400"/>
<rect x="483" y="596" width="2" height="41" fill="#009400"/>
<rect x="486" y="602" width="2" height="35" fill="#009400"/>
<rect x="489" y="603" width="2" height="34" fill="#009400"/>
<rect x="492" y="604" width="2" height="33" fill="#009400"/>
<rect x="495" y="597" width="2" height="40" fill="#009400"/>
<rect x="498" y="581" width="2" height="56" fill="#009400"/>
<rect x="501" y="577" width="2" height="60" fill="#009400"/>
<rect x="503" y="575" width="2" height="62" fill="#009400"/>
<rect x="506" y="555" width="2" height="82" fill="#009400"/>
<rect x="509" y="559" width="2" height="78" fill="#009400"/>
<rect x="512" y="558" width="2" height="79" fill="#009400"/>
<rect x="515" y="552" width="2" height="85" fill="#009400"/>
<rect x="518" y="576" width="2" height="61" fill="#009400"/>
<rect x="521" y="599" width="2" height="38" fill="#009400"/>
<rect x="524" y="584" width="2" height="53" fill="#009400"/>
<rect x="527" y="591" width="2" height="46" fill="#009400"/>
<rect x="530" y="595" width="2" height="42" fill="#009400"/>
<rect x="533" y="600" width="2" height="37" fill="#009400"/>
<rect x="536" y="593" width="2" height="44" fill="#009400"/>
<rect x="539" y="581" width="2" height="56" fill="#009400"/>
<rect x="542" y="585" width="2" height="52" fill="#009400"/>
<rect x="545" y="599" width="2" height="38" fill="#009400"/>
<rect x="548" y="600" width="2" height="37" fill="#009400"/>
<rect x="551" y="607" width="2" height="30" fill="#009400"/>
<polyline points="0.0,601.6 4.0,601.6 8.0,603.4 14.0,605.0 20.0,606.0 26.0,608.0 32.0,608.6 37.0,608.6 42.0,610.0 46.0,611.4 54.0,612.4 60.0,612.4 64.0,613.4 68.0,613.0 71.0,612.4 76.0,613.6 80.0,613.6 86.0,613.4 92.0,613.0 97.0,612.0 101.0,610.6 105.0,609.4 111.0,609.6 115.0,610.6 120.0,610.6 123.0,611.4 126.0,610.4 128.0,610.4 132.0,611.4 136.0,610.6 142.0,611.4 148.0,611.4 154.0,611.4 158.0,612.6 163.0,614.4 168.0,615.0 173.0,613.6 178.0,611.6 183.0,610.4 188.0,609.4 194.0,608.6 200.0,606.6 205.0,605.0 209.0,602.6 215.0,602.6 220.0,600.6 224.0,598.4 228.0,598.4 233.0,598.4 237.0,599.4 242.0,600.4 247.0,600.0 251.0,599.0 254.0,600.4 256.0,600.4 259.0,601.0 263.0,603.4 268.0,603.4 273.0,604.4 278.0,604.6 282.0,606.0 286.0,607.4 292.0,606.4 297.0,604.6 302.0,603.4 307.0,603.0 310.0,603.4 314.0,603.0 318.0,604.4 322.0,603.4 330.0,603.4 336.0,602.4 342.0,601.4 348.0,601.4 352.0,602.6 358.0,603.4 362.0,605.0 366.0,606.4 371.0,607.4 378.0,607.4 384.0,606.6 388.0,608.6 394.0,609.4 400.0,609.6 406.0,610.4 412.0,610.4 416.0,611.4 422.0,611.6 427.0,613.4 431.0,613.4 434.0,612.4 440.0,612.4 446.0,612.4 452.0,611.0 458.0,609.0 464.0,607.4 469.0,607.4 473.0,605.6 478.0,605.0 484.0,603.0 488.0,601.6 492.0,601.2 495.0,600.0 498.0,600.2 502.0,598.0 506.0,595.5 510.0,593.0 514.0,590.0 518.0,587.6 525.0,587.4 530.0,584.6 533.0,585.6 537.0,584.6 542.0,583.4 552.0,583.4" fill="none" stroke="#ff0000" stroke-width="1"/>
<rect x="587" y="545" width="1" height="98" fill="#000"/>
<rect x="587" y="636" width="9" height="1" fill="#000"/>
<rect x="587" y="627" width="4" height="1" fill="#000"/>
<rect x="587" y="618" width="4" height="1" fill="#000"/>
<rect x="587" y="609" width="4" height="1" fill="#000"/>
<rect x="587" y="600" width="4" height="1" fill="#000"/>
<rect x="587" y="591" width="9" height="1" fill="#000"/>
<rect x="587" y="582" width="4" height="1" fill="#000"/>
<rect x="587" y="573" width="4" height="1" fill="#000"/>
<rect x="587" y="565" width="4" height="1" fill="#000"/>
<rect x="587" y="556" width="4" height="1" fill="#000"/>
<rect x="587" y="547" width="9" height="1" fill="#000"/>
<rect x="589" y="629" width="39" height="16" fill="#000"/>
<rect x="590" y="630" width="37" height="15" fill="#fff"/>
<rect x="588" y="643" width="52" height="22" fill="#f0f0f0"/>
<rect x="0" y="642" width="588" height="1" fill="#000"/>
<rect x="9" y="643" width="1" height="5" fill="#000"/>
<rect x="21" y="643" width="1" height="5" fill="#000"/>
<rect x="33" y="643" width="1" height="5" fill="#000"/>
<rect x="48" y="643" width="1" height="5" fill="#000"/>
<rect x="63" y="643" width="1" height="5" fill="#000"/>
<rect x="75" y="643" width="1" height="5" fill="#000"/>
<rect x="86" y="643" width="1" height="5" fill="#000"/>
<rect x="98" y="643" width="1" height="5" fill="#000"/>
<rect x="113" y="643" width="1" height="19" fill="#000"/>
<rect x="125" y="643" width="1" height="5" fill="#000"/>
<rect x="137" y="643" width="1" height="5" fill="#000"/>
<rect x="152" y="643" width="1" height="5" fill="#000"/>
<rect x="164" y="643" width="1" height="5" fill="#000"/>
<rect x="175" y="643" width="1" height="5" fill="#000"/>
<rect x="190" y="643" width="1" height="5" fill="#000"/>
<rect x="202" y="643" width="1" height="5" fill="#000"/>
<rect x="217" y="643" width="1" height="5" fill="#000"/>
<rect x="229" y="643" width="1" height="5" fill="#000"/>
<rect x="241" y="643" width="1" height="5" fill="#000"/>
<rect x="252" y="643" width="1" height="5" fill="#000"/>
<rect x="267" y="643" width="1" height="19" fill="#000"/>
<rect x="279" y="643" width="1" height="5" fill="#000"/>
<rect x="291" y="643" width="1" height="5" fill="#000"/>
<rect x="306" y="643" width="1" height="5" fill="#000"/>
<rect x="318" y="643" width="1" height="5" fill="#000"/>
<rect x="333" y="643" width="1" height="5" fill="#000"/>
<rect x="344" y="643" width="1" height="5" fill="#000"/>
<rect x="356" y="643" width="1" height="5" fill="#000"/>
<rect x="371" y="643" width="1" height="5" fill="#000"/>
<rect x="383" y="643" width="1" height="5" fill="#000"/>
<rect x="395" y="643" width="1" height="5" fill="#000"/>
<rect x="410" y="643" width="1" height="5" fill="#000"/>
<rect x="421" y="643" width="1" height="19" fill="#000"/>
<rect x="433" y="643" width="1" height="5" fill="#000"/>
<rect x="445" y="643" width="1" height="5" fill="#000"/>
<rect x="457" y="643" width="1" height="5" fill="#000"/>
<rect x="472" y="643" width="1" height="5" fill="#000"/>
<rect x="484" y="643" width="1" height="5" fill="#000"/>
<rect x="496" y="643" width="1" height="5" fill="#000"/>
<rect x="507" y="643" width="1" height="5" fill="#000"/>
<rect x="522" y="643" width="1" height="5" fill="#000"/>
<rect x="534" y="643" width="1" height="5" fill="#000"/>
<rect x="549" y="643" width="1" height="5" fill="#000"/>
<rect x="561" y="643" width="1" height="5" fill="#000"/>
<rect x="573" y="643" width="1" height="19" fill="#000"/>
</svg>
<div class="l" style="right:6px;top:0.7000000000000002px;font-size:12px;color:#000;">100</div><div class="l" style="right:6px;top:23.2px;font-size:12px;color:#000;">50</div><div class="l" style="right:6px;top:45.7px;font-size:12px;color:#000;">0</div><div class="l" style="right:6px;top:68.2px;font-size:12px;color:#000;">-50</div><div class="l" style="right:6px;top:102.2px;font-size:12px;color:#000;">100</div><div class="l" style="right:6px;top:147.45px;font-size:12px;color:#000;">50</div><div class="l" style="right:6px;top:210.79999999999998px;font-size:12px;color:#000;">1850</div><div class="l" style="right:6px;top:226.57px;font-size:12px;color:#000;">1800</div><div class="l" style="right:6px;top:242.33999999999997px;font-size:12px;color:#000;">1750</div><div class="l" style="right:6px;top:258.10999999999996px;font-size:12px;color:#000;">1700</div><div class="l" style="right:6px;top:289.65px;font-size:12px;color:#000;">1600</div><div class="l" style="right:6px;top:305.42px;font-size:12px;color:#000;">1550</div><div class="l" style="right:6px;top:321.19px;font-size:12px;color:#000;">1500</div><div class="l" style="right:6px;top:336.96px;font-size:12px;color:#000;">1450</div><div class="l" style="right:6px;top:352.72999999999996px;font-size:12px;color:#000;">1400</div><div class="l" style="right:6px;top:368.5px;font-size:12px;color:#000;">1350</div><div class="l" style="right:6px;top:384.27px;font-size:12px;color:#000;">1300</div><div class="l" style="right:6px;top:400.04px;font-size:12px;color:#000;">1250</div><div class="l" style="right:6px;top:415.81px;font-size:12px;color:#000;">1200</div><div class="l" style="right:6px;top:431.58px;font-size:12px;color:#000;">1150</div><div class="l" style="right:6px;top:447.34999999999997px;font-size:12px;color:#000;">1100</div><div class="l" style="right:6px;top:463.12px;font-size:12px;color:#000;">1050</div><div class="l" style="right:6px;top:478.89000000000004px;font-size:12px;color:#000;">1000</div><div class="l" style="right:6px;top:494.66px;font-size:12px;color:#000;">950</div><div class="l" style="right:6px;top:510.43000000000006px;font-size:12px;color:#000;">900</div><div class="l" style="right:6px;top:526.2px;font-size:12px;color:#000;">850</div><div class="l" style="right:8px;top:275.2px;font-size:10.5px;color:#00ff00;">1635.46</div><div class="l" style="right:6px;top:585.8px;font-size:12px;color:#000;">50000</div><div class="l" style="right:14px;top:628.2px;font-size:9.4px;color:#000;">x100000</div><div class="l" style="left:115.2px;top:646.5px;font-size:12px">2023</div><div class="l" style="left:269.2px;top:646.5px;font-size:12px">2024</div><div class="l" style="left:423.2px;top:646.5px;font-size:12px">2025</div><div class="l" style="left:575px;top:646.5px;font-size:12px;width:12px;overflow:hidden">2026</div>
</div>
</body></html>
